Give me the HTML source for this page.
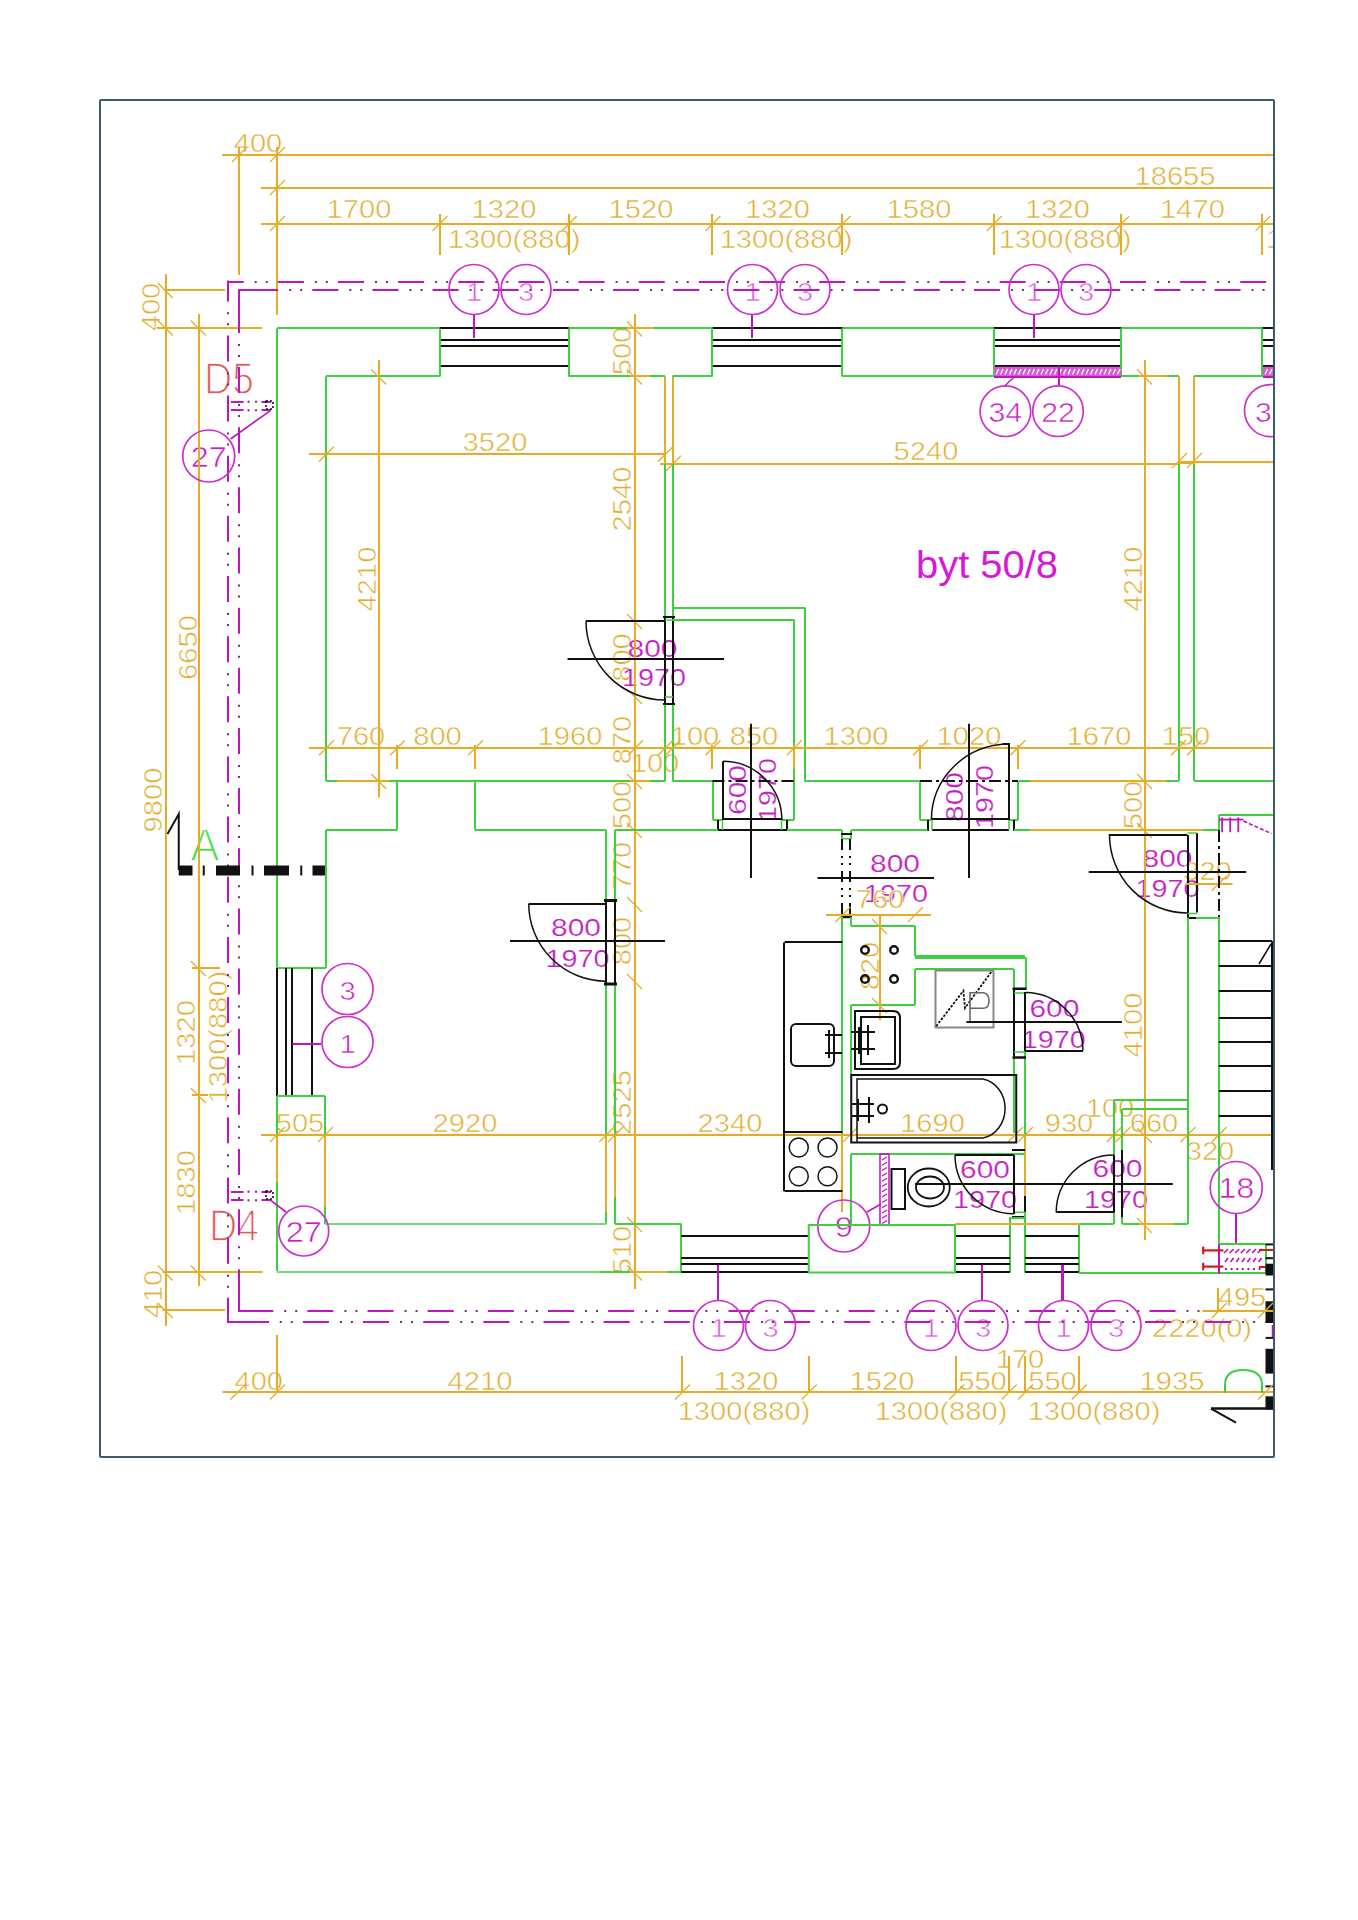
<!DOCTYPE html>
<html><head><meta charset="utf-8"><style>
html,body{margin:0;padding:0;background:#fff;}
body{width:1358px;height:1920px;overflow:hidden;}
svg{display:block;}
text{font-family:"Liberation Sans",sans-serif;}
</style></head><body>
<svg width="1358" height="1920" viewBox="0 0 1358 1920">
<rect x="0" y="0" width="1358" height="1920" fill="#fff"/>
<defs><clipPath id="cp"><rect x="100" y="100" width="1173" height="1356"/></clipPath></defs>
<g clip-path="url(#cp)">
<text x="258" y="151.7" font-size="26" fill="#e0ae30" text-anchor="middle" stroke="#fff" stroke-width="0.55" textLength="48.6" lengthAdjust="spacingAndGlyphs">400</text>
<text x="1175" y="184.7" font-size="26" fill="#e0ae30" text-anchor="middle" stroke="#fff" stroke-width="0.55" textLength="81.0" lengthAdjust="spacingAndGlyphs">18655</text>
<text x="359" y="218.2" font-size="26" fill="#e0ae30" text-anchor="middle" stroke="#fff" stroke-width="0.55" textLength="64.8" lengthAdjust="spacingAndGlyphs">1700</text>
<text x="504" y="218.2" font-size="26" fill="#e0ae30" text-anchor="middle" stroke="#fff" stroke-width="0.55" textLength="64.8" lengthAdjust="spacingAndGlyphs">1320</text>
<text x="641" y="218.2" font-size="26" fill="#e0ae30" text-anchor="middle" stroke="#fff" stroke-width="0.55" textLength="64.8" lengthAdjust="spacingAndGlyphs">1520</text>
<text x="777.5" y="218.2" font-size="26" fill="#e0ae30" text-anchor="middle" stroke="#fff" stroke-width="0.55" textLength="64.8" lengthAdjust="spacingAndGlyphs">1320</text>
<text x="919" y="218.2" font-size="26" fill="#e0ae30" text-anchor="middle" stroke="#fff" stroke-width="0.55" textLength="64.8" lengthAdjust="spacingAndGlyphs">1580</text>
<text x="1057.5" y="218.2" font-size="26" fill="#e0ae30" text-anchor="middle" stroke="#fff" stroke-width="0.55" textLength="64.8" lengthAdjust="spacingAndGlyphs">1320</text>
<text x="1192.5" y="218.2" font-size="26" fill="#e0ae30" text-anchor="middle" stroke="#fff" stroke-width="0.55" textLength="64.8" lengthAdjust="spacingAndGlyphs">1470</text>
<text x="514" y="248.2" font-size="26" fill="#e0ae30" text-anchor="middle" stroke="#fff" stroke-width="0.55" textLength="132.7" lengthAdjust="spacingAndGlyphs">1300(880)</text>
<text x="786" y="248.2" font-size="26" fill="#e0ae30" text-anchor="middle" stroke="#fff" stroke-width="0.55" textLength="132.7" lengthAdjust="spacingAndGlyphs">1300(880)</text>
<text x="1065" y="248.2" font-size="26" fill="#e0ae30" text-anchor="middle" stroke="#fff" stroke-width="0.55" textLength="132.7" lengthAdjust="spacingAndGlyphs">1300(880)</text>
<text x="1266" y="248.2" font-size="26" fill="#e0ae30" text-anchor="start" stroke="#fff" stroke-width="0.55" textLength="132.7" lengthAdjust="spacingAndGlyphs">1300(880)</text>
<text x="0" y="0" transform="translate(151,307) rotate(-90)" dominant-baseline="central" font-size="26" fill="#e0ae30" text-anchor="middle" stroke="#fff" stroke-width="0.55" textLength="48.6" lengthAdjust="spacingAndGlyphs">400</text>
<text x="0" y="0" transform="translate(187.5,647.5) rotate(-90)" dominant-baseline="central" font-size="26" fill="#e0ae30" text-anchor="middle" stroke="#fff" stroke-width="0.55" textLength="64.8" lengthAdjust="spacingAndGlyphs">6650</text>
<text x="0" y="0" transform="translate(152.5,800) rotate(-90)" dominant-baseline="central" font-size="26" fill="#e0ae30" text-anchor="middle" stroke="#fff" stroke-width="0.55" textLength="64.8" lengthAdjust="spacingAndGlyphs">9800</text>
<text x="0" y="0" transform="translate(186,1032.5) rotate(-90)" dominant-baseline="central" font-size="26" fill="#e0ae30" text-anchor="middle" stroke="#fff" stroke-width="0.55" textLength="64.8" lengthAdjust="spacingAndGlyphs">1320</text>
<text x="0" y="0" transform="translate(186,1182.5) rotate(-90)" dominant-baseline="central" font-size="26" fill="#e0ae30" text-anchor="middle" stroke="#fff" stroke-width="0.55" textLength="64.8" lengthAdjust="spacingAndGlyphs">1830</text>
<text x="0" y="0" transform="translate(152.5,1294) rotate(-90)" dominant-baseline="central" font-size="26" fill="#e0ae30" text-anchor="middle" stroke="#fff" stroke-width="0.55" textLength="48.6" lengthAdjust="spacingAndGlyphs">410</text>
<text x="0" y="0" transform="translate(217.5,1037) rotate(-90)" dominant-baseline="central" font-size="26" fill="#e0ae30" text-anchor="middle" stroke="#fff" stroke-width="0.55" textLength="132.7" lengthAdjust="spacingAndGlyphs">1300(880)</text>
<text x="474" y="300.7" font-size="26" fill="#d860d8" text-anchor="middle" stroke="#fff" stroke-width="0.55" textLength="16.2" lengthAdjust="spacingAndGlyphs">1</text>
<text x="526" y="300.7" font-size="26" fill="#d860d8" text-anchor="middle" stroke="#fff" stroke-width="0.55" textLength="16.2" lengthAdjust="spacingAndGlyphs">3</text>
<text x="752.5" y="300.7" font-size="26" fill="#d860d8" text-anchor="middle" stroke="#fff" stroke-width="0.55" textLength="16.2" lengthAdjust="spacingAndGlyphs">1</text>
<text x="805" y="300.7" font-size="26" fill="#d860d8" text-anchor="middle" stroke="#fff" stroke-width="0.55" textLength="16.2" lengthAdjust="spacingAndGlyphs">3</text>
<text x="1034" y="300.7" font-size="26" fill="#d860d8" text-anchor="middle" stroke="#fff" stroke-width="0.55" textLength="16.2" lengthAdjust="spacingAndGlyphs">1</text>
<text x="1086" y="300.7" font-size="26" fill="#d860d8" text-anchor="middle" stroke="#fff" stroke-width="0.55" textLength="16.2" lengthAdjust="spacingAndGlyphs">3</text>
<text x="1005.4" y="422.2" font-size="27" fill="#c41ec4" text-anchor="middle" stroke="#fff" stroke-width="0.55" textLength="33.6" lengthAdjust="spacingAndGlyphs">34</text>
<text x="1058" y="422.2" font-size="27" fill="#c41ec4" text-anchor="middle" stroke="#fff" stroke-width="0.55" textLength="33.6" lengthAdjust="spacingAndGlyphs">22</text>
<text x="1255" y="421.7" font-size="27" fill="#c41ec4" text-anchor="start" stroke="#fff" stroke-width="0.55" textLength="16.8" lengthAdjust="spacingAndGlyphs">3</text>
<text x="495" y="450.7" font-size="26" fill="#e0ae30" text-anchor="middle" stroke="#fff" stroke-width="0.55" textLength="64.8" lengthAdjust="spacingAndGlyphs">3520</text>
<text x="0" y="0" transform="translate(367,579) rotate(-90)" dominant-baseline="central" font-size="26" fill="#e0ae30" text-anchor="middle" stroke="#fff" stroke-width="0.55" textLength="64.8" lengthAdjust="spacingAndGlyphs">4210</text>
<text x="926" y="459.7" font-size="26" fill="#e0ae30" text-anchor="middle" stroke="#fff" stroke-width="0.55" textLength="64.8" lengthAdjust="spacingAndGlyphs">5240</text>
<text x="987" y="578.2" font-size="38" fill="#d818d8" text-anchor="middle" textLength="142" lengthAdjust="spacingAndGlyphs">byt 50/8</text>
<text x="0" y="0" transform="translate(1132.5,579) rotate(-90)" dominant-baseline="central" font-size="26" fill="#e0ae30" text-anchor="middle" stroke="#fff" stroke-width="0.55" textLength="64.8" lengthAdjust="spacingAndGlyphs">4210</text>
<text x="0" y="0" transform="translate(1132.5,805) rotate(-90)" dominant-baseline="central" font-size="26" fill="#e0ae30" text-anchor="middle" stroke="#fff" stroke-width="0.55" textLength="48.6" lengthAdjust="spacingAndGlyphs">500</text>
<text x="0" y="0" transform="translate(1132.5,1025) rotate(-90)" dominant-baseline="central" font-size="26" fill="#e0ae30" text-anchor="middle" stroke="#fff" stroke-width="0.55" textLength="64.8" lengthAdjust="spacingAndGlyphs">4100</text>
<text x="0" y="0" transform="translate(622,351) rotate(-90)" dominant-baseline="central" font-size="26" fill="#e0ae30" text-anchor="middle" stroke="#fff" stroke-width="0.55" textLength="48.6" lengthAdjust="spacingAndGlyphs">500</text>
<text x="0" y="0" transform="translate(622,499) rotate(-90)" dominant-baseline="central" font-size="26" fill="#e0ae30" text-anchor="middle" stroke="#fff" stroke-width="0.55" textLength="64.8" lengthAdjust="spacingAndGlyphs">2540</text>
<text x="0" y="0" transform="translate(622,657.5) rotate(-90)" dominant-baseline="central" font-size="26" fill="#e0ae30" text-anchor="middle" stroke="#fff" stroke-width="0.55" textLength="48.6" lengthAdjust="spacingAndGlyphs">800</text>
<text x="0" y="0" transform="translate(622,740) rotate(-90)" dominant-baseline="central" font-size="26" fill="#e0ae30" text-anchor="middle" stroke="#fff" stroke-width="0.55" textLength="48.6" lengthAdjust="spacingAndGlyphs">870</text>
<text x="0" y="0" transform="translate(622,805) rotate(-90)" dominant-baseline="central" font-size="26" fill="#e0ae30" text-anchor="middle" stroke="#fff" stroke-width="0.55" textLength="48.6" lengthAdjust="spacingAndGlyphs">500</text>
<text x="0" y="0" transform="translate(622,866) rotate(-90)" dominant-baseline="central" font-size="26" fill="#e0ae30" text-anchor="middle" stroke="#fff" stroke-width="0.55" textLength="48.6" lengthAdjust="spacingAndGlyphs">770</text>
<text x="0" y="0" transform="translate(622,941) rotate(-90)" dominant-baseline="central" font-size="26" fill="#e0ae30" text-anchor="middle" stroke="#fff" stroke-width="0.55" textLength="48.6" lengthAdjust="spacingAndGlyphs">800</text>
<text x="0" y="0" transform="translate(622,1102.5) rotate(-90)" dominant-baseline="central" font-size="26" fill="#e0ae30" text-anchor="middle" stroke="#fff" stroke-width="0.55" textLength="64.8" lengthAdjust="spacingAndGlyphs">2525</text>
<text x="0" y="0" transform="translate(622,1250) rotate(-90)" dominant-baseline="central" font-size="26" fill="#e0ae30" text-anchor="middle" stroke="#fff" stroke-width="0.55" textLength="48.6" lengthAdjust="spacingAndGlyphs">510</text>
<text x="652.5" y="656.7" font-size="23" fill="#c41ec4" text-anchor="middle" stroke="#fff" stroke-width="0.2" textLength="49.9" lengthAdjust="spacingAndGlyphs">800</text>
<text x="654" y="685.7" font-size="23" fill="#c41ec4" text-anchor="middle" stroke="#fff" stroke-width="0.2" textLength="63.9" lengthAdjust="spacingAndGlyphs">1970</text>
<text x="361" y="744.7" font-size="26" fill="#e0ae30" text-anchor="middle" stroke="#fff" stroke-width="0.55" textLength="48.6" lengthAdjust="spacingAndGlyphs">760</text>
<text x="437.5" y="744.7" font-size="26" fill="#e0ae30" text-anchor="middle" stroke="#fff" stroke-width="0.55" textLength="48.6" lengthAdjust="spacingAndGlyphs">800</text>
<text x="570" y="744.7" font-size="26" fill="#e0ae30" text-anchor="middle" stroke="#fff" stroke-width="0.55" textLength="64.8" lengthAdjust="spacingAndGlyphs">1960</text>
<text x="695" y="744.7" font-size="26" fill="#e0ae30" text-anchor="middle" stroke="#fff" stroke-width="0.55" textLength="48.6" lengthAdjust="spacingAndGlyphs">100</text>
<text x="754" y="744.7" font-size="26" fill="#e0ae30" text-anchor="middle" stroke="#fff" stroke-width="0.55" textLength="48.6" lengthAdjust="spacingAndGlyphs">850</text>
<text x="856" y="744.7" font-size="26" fill="#e0ae30" text-anchor="middle" stroke="#fff" stroke-width="0.55" textLength="64.8" lengthAdjust="spacingAndGlyphs">1300</text>
<text x="969" y="744.7" font-size="26" fill="#e0ae30" text-anchor="middle" stroke="#fff" stroke-width="0.55" textLength="64.8" lengthAdjust="spacingAndGlyphs">1020</text>
<text x="1099" y="744.7" font-size="26" fill="#e0ae30" text-anchor="middle" stroke="#fff" stroke-width="0.55" textLength="64.8" lengthAdjust="spacingAndGlyphs">1670</text>
<text x="1186" y="744.7" font-size="26" fill="#e0ae30" text-anchor="middle" stroke="#fff" stroke-width="0.55" textLength="48.6" lengthAdjust="spacingAndGlyphs">150</text>
<text x="655" y="771.7" font-size="26" fill="#e0ae30" text-anchor="middle" stroke="#fff" stroke-width="0.55" textLength="48.6" lengthAdjust="spacingAndGlyphs">100</text>
<text x="300" y="1131.7" font-size="26" fill="#e0ae30" text-anchor="middle" stroke="#fff" stroke-width="0.55" textLength="48.6" lengthAdjust="spacingAndGlyphs">505</text>
<text x="465" y="1131.7" font-size="26" fill="#e0ae30" text-anchor="middle" stroke="#fff" stroke-width="0.55" textLength="64.8" lengthAdjust="spacingAndGlyphs">2920</text>
<text x="730" y="1131.7" font-size="26" fill="#e0ae30" text-anchor="middle" stroke="#fff" stroke-width="0.55" textLength="64.8" lengthAdjust="spacingAndGlyphs">2340</text>
<text x="932.5" y="1131.7" font-size="26" fill="#e0ae30" text-anchor="middle" stroke="#fff" stroke-width="0.55" textLength="64.8" lengthAdjust="spacingAndGlyphs">1690</text>
<text x="1069" y="1131.7" font-size="26" fill="#e0ae30" text-anchor="middle" stroke="#fff" stroke-width="0.55" textLength="48.6" lengthAdjust="spacingAndGlyphs">930</text>
<text x="1154" y="1131.7" font-size="26" fill="#e0ae30" text-anchor="middle" stroke="#fff" stroke-width="0.55" textLength="48.6" lengthAdjust="spacingAndGlyphs">660</text>
<text x="1110" y="1116.7" font-size="26" fill="#e0ae30" text-anchor="middle" stroke="#fff" stroke-width="0.55" textLength="48.6" lengthAdjust="spacingAndGlyphs">100</text>
<text x="1210" y="1159.7" font-size="26" fill="#e0ae30" text-anchor="middle" stroke="#fff" stroke-width="0.55" textLength="48.6" lengthAdjust="spacingAndGlyphs">320</text>
<text x="205" y="861.0" font-size="47" fill="#44dd44" text-anchor="middle" stroke="#fff" stroke-width="1.5" textLength="29.3" lengthAdjust="spacingAndGlyphs">A</text>
<text x="347.5" y="999.7" font-size="26" fill="#c41ec4" text-anchor="middle" stroke="#fff" stroke-width="0.55" textLength="16.2" lengthAdjust="spacingAndGlyphs">3</text>
<text x="347.5" y="1052.7" font-size="26" fill="#c41ec4" text-anchor="middle" stroke="#fff" stroke-width="0.55" textLength="16.2" lengthAdjust="spacingAndGlyphs">1</text>
<text x="229" y="393.7" font-size="44" fill="#e05a5a" text-anchor="middle" stroke="#fff" stroke-width="1.4" textLength="50" lengthAdjust="spacingAndGlyphs">D5</text>
<text x="208.75" y="466.7" font-size="29" fill="#c41ec4" text-anchor="middle" stroke="#fff" stroke-width="0.55" textLength="36.1" lengthAdjust="spacingAndGlyphs">27</text>
<text x="234" y="1240.7" font-size="44" fill="#e05a5a" text-anchor="middle" stroke="#fff" stroke-width="1.4" textLength="50" lengthAdjust="spacingAndGlyphs">D4</text>
<text x="303.75" y="1241.7" font-size="29" fill="#c41ec4" text-anchor="middle" stroke="#fff" stroke-width="0.55" textLength="36.1" lengthAdjust="spacingAndGlyphs">27</text>
<text x="576" y="935.7" font-size="23" fill="#c41ec4" text-anchor="middle" stroke="#fff" stroke-width="0.2" textLength="49.9" lengthAdjust="spacingAndGlyphs">800</text>
<text x="577.5" y="966.7" font-size="23" fill="#c41ec4" text-anchor="middle" stroke="#fff" stroke-width="0.2" textLength="63.9" lengthAdjust="spacingAndGlyphs">1970</text>
<text x="0" y="0" transform="translate(738,790) rotate(-90)" dominant-baseline="central" font-size="23" fill="#c41ec4" text-anchor="middle" stroke="#fff" stroke-width="0.2" textLength="49.9" lengthAdjust="spacingAndGlyphs">600</text>
<text x="0" y="0" transform="translate(767.5,790) rotate(-90)" dominant-baseline="central" font-size="23" fill="#c41ec4" text-anchor="middle" stroke="#fff" stroke-width="0.2" textLength="63.9" lengthAdjust="spacingAndGlyphs">1970</text>
<text x="0" y="0" transform="translate(955,797) rotate(-90)" dominant-baseline="central" font-size="23" fill="#c41ec4" text-anchor="middle" stroke="#fff" stroke-width="0.2" textLength="49.9" lengthAdjust="spacingAndGlyphs">800</text>
<text x="0" y="0" transform="translate(985,797) rotate(-90)" dominant-baseline="central" font-size="23" fill="#c41ec4" text-anchor="middle" stroke="#fff" stroke-width="0.2" textLength="63.9" lengthAdjust="spacingAndGlyphs">1970</text>
<text x="895" y="871.7" font-size="23" fill="#c41ec4" text-anchor="middle" stroke="#fff" stroke-width="0.2" textLength="49.9" lengthAdjust="spacingAndGlyphs">800</text>
<text x="896" y="901.7" font-size="23" fill="#c41ec4" text-anchor="middle" stroke="#fff" stroke-width="0.2" textLength="63.9" lengthAdjust="spacingAndGlyphs">1970</text>
<text x="880" y="908.2" font-size="26" fill="#e0ae30" text-anchor="middle" stroke="#fff" stroke-width="0.55" textLength="48.6" lengthAdjust="spacingAndGlyphs">760</text>
<text x="0" y="0" transform="translate(870,966) rotate(-90)" dominant-baseline="central" font-size="26" fill="#e0ae30" text-anchor="middle" stroke="#fff" stroke-width="0.55" textLength="48.6" lengthAdjust="spacingAndGlyphs">820</text>
<text x="1054.4" y="1016.95" font-size="23" fill="#c41ec4" text-anchor="middle" stroke="#fff" stroke-width="0.2" textLength="49.9" lengthAdjust="spacingAndGlyphs">600</text>
<text x="1053.75" y="1048.2" font-size="23" fill="#c41ec4" text-anchor="middle" stroke="#fff" stroke-width="0.2" textLength="63.9" lengthAdjust="spacingAndGlyphs">1970</text>
<text x="985" y="1178.2" font-size="23" fill="#c41ec4" text-anchor="middle" stroke="#fff" stroke-width="0.2" textLength="49.9" lengthAdjust="spacingAndGlyphs">600</text>
<text x="985" y="1208.2" font-size="23" fill="#c41ec4" text-anchor="middle" stroke="#fff" stroke-width="0.2" textLength="63.9" lengthAdjust="spacingAndGlyphs">1970</text>
<text x="843.75" y="1236.7" font-size="29" fill="#c41ec4" text-anchor="middle" stroke="#fff" stroke-width="0.55" textLength="18.1" lengthAdjust="spacingAndGlyphs">9</text>
<text x="1167.5" y="866.7" font-size="23" fill="#c41ec4" text-anchor="middle" stroke="#fff" stroke-width="0.2" textLength="49.9" lengthAdjust="spacingAndGlyphs">800</text>
<text x="1167.5" y="896.7" font-size="23" fill="#c41ec4" text-anchor="middle" stroke="#fff" stroke-width="0.2" textLength="63.9" lengthAdjust="spacingAndGlyphs">1970</text>
<text x="1207.5" y="879.7" font-size="26" fill="#e0ae30" text-anchor="middle" stroke="#fff" stroke-width="0.55" textLength="48.6" lengthAdjust="spacingAndGlyphs">320</text>
<text x="1117.5" y="1176.7" font-size="23" fill="#c41ec4" text-anchor="middle" stroke="#fff" stroke-width="0.2" textLength="49.9" lengthAdjust="spacingAndGlyphs">600</text>
<text x="1116" y="1208.2" font-size="23" fill="#c41ec4" text-anchor="middle" stroke="#fff" stroke-width="0.2" textLength="63.9" lengthAdjust="spacingAndGlyphs">1970</text>
<text x="1236.25" y="1198.2" font-size="29" fill="#c41ec4" text-anchor="middle" stroke="#fff" stroke-width="0.55" textLength="36.1" lengthAdjust="spacingAndGlyphs">18</text>
<text x="718.5" y="1336.7" font-size="26" fill="#d860d8" text-anchor="middle" stroke="#fff" stroke-width="0.55" textLength="16.2" lengthAdjust="spacingAndGlyphs">1</text>
<text x="770.5" y="1336.7" font-size="26" fill="#d860d8" text-anchor="middle" stroke="#fff" stroke-width="0.55" textLength="16.2" lengthAdjust="spacingAndGlyphs">3</text>
<text x="931" y="1336.7" font-size="26" fill="#d860d8" text-anchor="middle" stroke="#fff" stroke-width="0.55" textLength="16.2" lengthAdjust="spacingAndGlyphs">1</text>
<text x="983" y="1336.7" font-size="26" fill="#d860d8" text-anchor="middle" stroke="#fff" stroke-width="0.55" textLength="16.2" lengthAdjust="spacingAndGlyphs">3</text>
<text x="1063.5" y="1336.7" font-size="26" fill="#d860d8" text-anchor="middle" stroke="#fff" stroke-width="0.55" textLength="16.2" lengthAdjust="spacingAndGlyphs">1</text>
<text x="1116" y="1336.7" font-size="26" fill="#d860d8" text-anchor="middle" stroke="#fff" stroke-width="0.55" textLength="16.2" lengthAdjust="spacingAndGlyphs">3</text>
<text x="258.75" y="1389.7" font-size="26" fill="#e0ae30" text-anchor="middle" stroke="#fff" stroke-width="0.55" textLength="48.6" lengthAdjust="spacingAndGlyphs">400</text>
<text x="480" y="1389.7" font-size="26" fill="#e0ae30" text-anchor="middle" stroke="#fff" stroke-width="0.55" textLength="64.8" lengthAdjust="spacingAndGlyphs">4210</text>
<text x="746" y="1389.7" font-size="26" fill="#e0ae30" text-anchor="middle" stroke="#fff" stroke-width="0.55" textLength="64.8" lengthAdjust="spacingAndGlyphs">1320</text>
<text x="882" y="1389.7" font-size="26" fill="#e0ae30" text-anchor="middle" stroke="#fff" stroke-width="0.55" textLength="64.8" lengthAdjust="spacingAndGlyphs">1520</text>
<text x="982.5" y="1389.7" font-size="26" fill="#e0ae30" text-anchor="middle" stroke="#fff" stroke-width="0.55" textLength="48.6" lengthAdjust="spacingAndGlyphs">550</text>
<text x="1052.5" y="1389.7" font-size="26" fill="#e0ae30" text-anchor="middle" stroke="#fff" stroke-width="0.55" textLength="48.6" lengthAdjust="spacingAndGlyphs">550</text>
<text x="1172" y="1389.7" font-size="26" fill="#e0ae30" text-anchor="middle" stroke="#fff" stroke-width="0.55" textLength="64.8" lengthAdjust="spacingAndGlyphs">1935</text>
<text x="1020" y="1368.2" font-size="26" fill="#e0ae30" text-anchor="middle" stroke="#fff" stroke-width="0.55" textLength="48.6" lengthAdjust="spacingAndGlyphs">170</text>
<text x="744" y="1419.7" font-size="26" fill="#e0ae30" text-anchor="middle" stroke="#fff" stroke-width="0.55" textLength="132.7" lengthAdjust="spacingAndGlyphs">1300(880)</text>
<text x="941" y="1419.7" font-size="26" fill="#e0ae30" text-anchor="middle" stroke="#fff" stroke-width="0.55" textLength="132.7" lengthAdjust="spacingAndGlyphs">1300(880)</text>
<text x="1094" y="1419.7" font-size="26" fill="#e0ae30" text-anchor="middle" stroke="#fff" stroke-width="0.55" textLength="132.7" lengthAdjust="spacingAndGlyphs">1300(880)</text>
<text x="1242" y="1305.7" font-size="26" fill="#e0ae30" text-anchor="middle" stroke="#fff" stroke-width="0.55" textLength="48.6" lengthAdjust="spacingAndGlyphs">495</text>
<text x="1202" y="1337.2" font-size="26" fill="#e0ae30" text-anchor="middle" stroke="#fff" stroke-width="0.55" textLength="100" lengthAdjust="spacingAndGlyphs">2220(0)</text>
<line x1="222" y1="155" x2="1273" y2="155" stroke="#e6ac26" stroke-width="2" stroke-linecap="butt"/>
<line x1="261" y1="188" x2="1273" y2="188" stroke="#e6ac26" stroke-width="2" stroke-linecap="butt"/>
<line x1="261" y1="224" x2="1273" y2="224" stroke="#e6ac26" stroke-width="2" stroke-linecap="butt"/>
<line x1="239" y1="147" x2="239" y2="275" stroke="#e6ac26" stroke-width="2" stroke-linecap="butt"/>
<line x1="277" y1="147" x2="277" y2="315" stroke="#e6ac26" stroke-width="2" stroke-linecap="butt"/>
<line x1="232" y1="162" x2="247" y2="147" stroke="#e6ac26" stroke-width="1.3" stroke-linecap="butt"/>
<line x1="270" y1="162" x2="285" y2="147" stroke="#e6ac26" stroke-width="1.3" stroke-linecap="butt"/>
<line x1="270" y1="195" x2="285" y2="180" stroke="#e6ac26" stroke-width="1.3" stroke-linecap="butt"/>
<line x1="270" y1="231" x2="285" y2="216" stroke="#e6ac26" stroke-width="1.3" stroke-linecap="butt"/>
<line x1="432.5" y1="231" x2="447.5" y2="216" stroke="#e6ac26" stroke-width="1.3" stroke-linecap="butt"/>
<line x1="440" y1="214" x2="440" y2="255" stroke="#e6ac26" stroke-width="2" stroke-linecap="butt"/>
<line x1="561.75" y1="231" x2="576.75" y2="216" stroke="#e6ac26" stroke-width="1.3" stroke-linecap="butt"/>
<line x1="569" y1="214" x2="569" y2="255" stroke="#e6ac26" stroke-width="2" stroke-linecap="butt"/>
<line x1="705.5" y1="231" x2="720.5" y2="216" stroke="#e6ac26" stroke-width="1.3" stroke-linecap="butt"/>
<line x1="712" y1="214" x2="712" y2="255" stroke="#e6ac26" stroke-width="2" stroke-linecap="butt"/>
<line x1="835.5" y1="231" x2="850.5" y2="216" stroke="#e6ac26" stroke-width="1.3" stroke-linecap="butt"/>
<line x1="842" y1="214" x2="842" y2="255" stroke="#e6ac26" stroke-width="2" stroke-linecap="butt"/>
<line x1="986.75" y1="231" x2="1001.75" y2="216" stroke="#e6ac26" stroke-width="1.3" stroke-linecap="butt"/>
<line x1="994" y1="214" x2="994" y2="255" stroke="#e6ac26" stroke-width="2" stroke-linecap="butt"/>
<line x1="1114.25" y1="231" x2="1129.25" y2="216" stroke="#e6ac26" stroke-width="1.3" stroke-linecap="butt"/>
<line x1="1121" y1="214" x2="1121" y2="255" stroke="#e6ac26" stroke-width="2" stroke-linecap="butt"/>
<line x1="1255.5" y1="231" x2="1270.5" y2="216" stroke="#e6ac26" stroke-width="1.3" stroke-linecap="butt"/>
<line x1="1262" y1="214" x2="1262" y2="255" stroke="#e6ac26" stroke-width="2" stroke-linecap="butt"/>
<line x1="164" y1="290" x2="225" y2="290" stroke="#e6ac26" stroke-width="2" stroke-linecap="butt"/>
<line x1="157" y1="328" x2="262" y2="328" stroke="#e6ac26" stroke-width="2" stroke-linecap="butt"/>
<line x1="166" y1="274" x2="166" y2="1326" stroke="#e6ac26" stroke-width="2" stroke-linecap="butt"/>
<line x1="199" y1="314" x2="199" y2="1286" stroke="#e6ac26" stroke-width="2" stroke-linecap="butt"/>
<line x1="157.75" y1="283" x2="172.75" y2="298" stroke="#e6ac26" stroke-width="1.3" stroke-linecap="butt"/>
<line x1="157.75" y1="320.5" x2="172.75" y2="335.5" stroke="#e6ac26" stroke-width="1.3" stroke-linecap="butt"/>
<line x1="190.75" y1="320.5" x2="205.75" y2="335.5" stroke="#e6ac26" stroke-width="1.3" stroke-linecap="butt"/>
<line x1="190.75" y1="961" x2="205.75" y2="976" stroke="#e6ac26" stroke-width="1.3" stroke-linecap="butt"/>
<line x1="190.75" y1="1088" x2="205.75" y2="1103" stroke="#e6ac26" stroke-width="1.3" stroke-linecap="butt"/>
<line x1="157.75" y1="1265.5" x2="172.75" y2="1280.5" stroke="#e6ac26" stroke-width="1.3" stroke-linecap="butt"/>
<line x1="190.75" y1="1265.5" x2="205.75" y2="1280.5" stroke="#e6ac26" stroke-width="1.3" stroke-linecap="butt"/>
<line x1="157.75" y1="1303" x2="172.75" y2="1318" stroke="#e6ac26" stroke-width="1.3" stroke-linecap="butt"/>
<line x1="162.5" y1="1272" x2="262.5" y2="1272" stroke="#e6ac26" stroke-width="2" stroke-linecap="butt"/>
<line x1="162.5" y1="1310" x2="225" y2="1310" stroke="#e6ac26" stroke-width="2" stroke-linecap="butt"/>
<line x1="192" y1="968" x2="220" y2="968" stroke="#e6ac26" stroke-width="2" stroke-linecap="butt"/>
<line x1="192" y1="1095" x2="208" y2="1095" stroke="#e6ac26" stroke-width="2" stroke-linecap="butt"/>
<line x1="227" y1="282" x2="242" y2="282" stroke="#be14be" stroke-width="2" stroke-linecap="butt"/>
<line x1="242" y1="282" x2="1273" y2="282" stroke="#be14be" stroke-width="2" stroke-dasharray="26 34.15" stroke-dashoffset="24.29999999999999" stroke-linecap="butt"/>
<line x1="242" y1="282" x2="1273" y2="282" stroke="#7a2a7a" stroke-width="2" stroke-dasharray="0 37 2 9 2 10.149999999999999" stroke-dashoffset="24.29999999999999" stroke-linecap="butt"/>
<line x1="238.25" y1="290" x2="276" y2="290" stroke="#be14be" stroke-width="2" stroke-linecap="butt"/>
<line x1="276" y1="290" x2="1273" y2="290" stroke="#be14be" stroke-width="2" stroke-dasharray="26 34.15" stroke-dashoffset="23.849999999999945" stroke-linecap="butt"/>
<line x1="276" y1="290" x2="1273" y2="290" stroke="#7a2a7a" stroke-width="2" stroke-dasharray="0 37 2 9 2 10.149999999999999" stroke-dashoffset="23.849999999999945" stroke-linecap="butt"/>
<line x1="228" y1="280.5" x2="228" y2="301.5" stroke="#be14be" stroke-width="2" stroke-linecap="butt"/>
<line x1="228" y1="301.5" x2="228" y2="1321.5" stroke="#be14be" stroke-width="2" stroke-dasharray="26 34.15" stroke-dashoffset="26.249999999999993" stroke-linecap="butt"/>
<line x1="228" y1="301.5" x2="228" y2="1321.5" stroke="#7a2a7a" stroke-width="2" stroke-dasharray="0 37 2 9 2 10.149999999999999" stroke-dashoffset="26.249999999999993" stroke-linecap="butt"/>
<line x1="239" y1="289.5" x2="239" y2="327.3" stroke="#be14be" stroke-width="2" stroke-linecap="butt"/>
<line x1="239" y1="327.3" x2="239" y2="1270" stroke="#be14be" stroke-width="2" stroke-dasharray="26 34.15" stroke-dashoffset="20.400000000000006" stroke-linecap="butt"/>
<line x1="239" y1="327.3" x2="239" y2="1270" stroke="#7a2a7a" stroke-width="2" stroke-dasharray="0 37 2 9 2 10.149999999999999" stroke-dashoffset="20.400000000000006" stroke-linecap="butt"/>
<line x1="239" y1="1270" x2="239" y2="1312" stroke="#be14be" stroke-width="2" stroke-linecap="butt"/>
<line x1="227" y1="1322" x2="269" y2="1322" stroke="#be14be" stroke-width="2" stroke-linecap="butt"/>
<line x1="269" y1="1322" x2="1273" y2="1322" stroke="#be14be" stroke-width="2" stroke-dasharray="26 34.15" stroke-dashoffset="26.249999999999993" stroke-linecap="butt"/>
<line x1="269" y1="1322" x2="1273" y2="1322" stroke="#7a2a7a" stroke-width="2" stroke-dasharray="0 37 2 9 2 10.149999999999999" stroke-dashoffset="26.249999999999993" stroke-linecap="butt"/>
<line x1="238.25" y1="1311" x2="272" y2="1311" stroke="#be14be" stroke-width="2" stroke-linecap="butt"/>
<line x1="272" y1="1311" x2="1273" y2="1311" stroke="#be14be" stroke-width="2" stroke-dasharray="26 34.15" stroke-dashoffset="24.749999999999993" stroke-linecap="butt"/>
<line x1="272" y1="1311" x2="1273" y2="1311" stroke="#7a2a7a" stroke-width="2" stroke-dasharray="0 37 2 9 2 10.149999999999999" stroke-dashoffset="24.749999999999993" stroke-linecap="butt"/>
<line x1="277" y1="328" x2="439.5" y2="328" stroke="#3fcf3f" stroke-width="2" stroke-linecap="butt"/>
<line x1="568.75" y1="328" x2="712.5" y2="328" stroke="#3fcf3f" stroke-width="2" stroke-linecap="butt"/>
<line x1="842.5" y1="328" x2="993.75" y2="328" stroke="#3fcf3f" stroke-width="2" stroke-linecap="butt"/>
<line x1="1121.25" y1="328" x2="1262.5" y2="328" stroke="#3fcf3f" stroke-width="2" stroke-linecap="butt"/>
<line x1="277" y1="328.5" x2="277" y2="1271" stroke="#3fcf3f" stroke-width="2" stroke-linecap="butt"/>
<line x1="439.5" y1="328" x2="568.75" y2="328" stroke="#111111" stroke-width="2" stroke-linecap="butt"/>
<line x1="439.5" y1="340" x2="568.75" y2="340" stroke="#111111" stroke-width="2" stroke-linecap="butt"/>
<line x1="439.5" y1="346" x2="568.75" y2="346" stroke="#111111" stroke-width="2" stroke-linecap="butt"/>
<line x1="439.5" y1="366" x2="568.75" y2="366" stroke="#111111" stroke-width="2" stroke-linecap="butt"/>
<line x1="712.5" y1="328" x2="842.5" y2="328" stroke="#111111" stroke-width="2" stroke-linecap="butt"/>
<line x1="712.5" y1="340" x2="842.5" y2="340" stroke="#111111" stroke-width="2" stroke-linecap="butt"/>
<line x1="712.5" y1="346" x2="842.5" y2="346" stroke="#111111" stroke-width="2" stroke-linecap="butt"/>
<line x1="712.5" y1="366" x2="842.5" y2="366" stroke="#111111" stroke-width="2" stroke-linecap="butt"/>
<line x1="993.75" y1="328" x2="1121.25" y2="328" stroke="#111111" stroke-width="2" stroke-linecap="butt"/>
<line x1="993.75" y1="340" x2="1121.25" y2="340" stroke="#111111" stroke-width="2" stroke-linecap="butt"/>
<line x1="993.75" y1="346" x2="1121.25" y2="346" stroke="#111111" stroke-width="2" stroke-linecap="butt"/>
<line x1="993.75" y1="366" x2="1121.25" y2="366" stroke="#111111" stroke-width="2" stroke-linecap="butt"/>
<line x1="1262.5" y1="328" x2="1273" y2="328" stroke="#111111" stroke-width="2" stroke-linecap="butt"/>
<line x1="1262.5" y1="340" x2="1273" y2="340" stroke="#111111" stroke-width="2" stroke-linecap="butt"/>
<line x1="1262.5" y1="346" x2="1273" y2="346" stroke="#111111" stroke-width="2" stroke-linecap="butt"/>
<line x1="1262.5" y1="366" x2="1273" y2="366" stroke="#111111" stroke-width="2" stroke-linecap="butt"/>
<line x1="440" y1="328.5" x2="440" y2="376.5" stroke="#3fcf3f" stroke-width="2" stroke-linecap="butt"/>
<line x1="569" y1="328.5" x2="569" y2="376.5" stroke="#3fcf3f" stroke-width="2" stroke-linecap="butt"/>
<line x1="712" y1="328.5" x2="712" y2="376.5" stroke="#3fcf3f" stroke-width="2" stroke-linecap="butt"/>
<line x1="842" y1="328.5" x2="842" y2="376.5" stroke="#3fcf3f" stroke-width="2" stroke-linecap="butt"/>
<line x1="994" y1="328.5" x2="994" y2="376.5" stroke="#3fcf3f" stroke-width="2" stroke-linecap="butt"/>
<line x1="1121" y1="328.5" x2="1121" y2="376.5" stroke="#3fcf3f" stroke-width="2" stroke-linecap="butt"/>
<line x1="1262" y1="328.5" x2="1262" y2="376.5" stroke="#3fcf3f" stroke-width="2" stroke-linecap="butt"/>
<line x1="326" y1="376" x2="439.5" y2="376" stroke="#3fcf3f" stroke-width="2" stroke-linecap="butt"/>
<line x1="568.75" y1="376" x2="665" y2="376" stroke="#3fcf3f" stroke-width="2" stroke-linecap="butt"/>
<line x1="672.5" y1="376" x2="712.5" y2="376" stroke="#3fcf3f" stroke-width="2" stroke-linecap="butt"/>
<line x1="842.5" y1="376" x2="993.75" y2="376" stroke="#3fcf3f" stroke-width="2" stroke-linecap="butt"/>
<line x1="1121.25" y1="376" x2="1179" y2="376" stroke="#3fcf3f" stroke-width="2" stroke-linecap="butt"/>
<line x1="1194" y1="376" x2="1262.5" y2="376" stroke="#3fcf3f" stroke-width="2" stroke-linecap="butt"/>
<rect x="994" y="366.8" width="127" height="10.5" fill="#d858d8"/>
<line x1="994" y1="377" x2="1121" y2="377" stroke="#be14be" stroke-width="2" stroke-linecap="butt"/>
<line x1="996.0" y1="374.5" x2="998.5" y2="369" stroke="#fff" stroke-width="1.4" stroke-linecap="butt"/>
<line x1="1000.5" y1="374.5" x2="1003.0" y2="369" stroke="#fff" stroke-width="1.4" stroke-linecap="butt"/>
<line x1="1005.0" y1="374.5" x2="1007.5" y2="369" stroke="#fff" stroke-width="1.4" stroke-linecap="butt"/>
<line x1="1009.5" y1="374.5" x2="1012.0" y2="369" stroke="#fff" stroke-width="1.4" stroke-linecap="butt"/>
<line x1="1014.0" y1="374.5" x2="1016.5" y2="369" stroke="#fff" stroke-width="1.4" stroke-linecap="butt"/>
<line x1="1018.5" y1="374.5" x2="1021.0" y2="369" stroke="#fff" stroke-width="1.4" stroke-linecap="butt"/>
<line x1="1023.0" y1="374.5" x2="1025.5" y2="369" stroke="#fff" stroke-width="1.4" stroke-linecap="butt"/>
<line x1="1027.5" y1="374.5" x2="1030.0" y2="369" stroke="#fff" stroke-width="1.4" stroke-linecap="butt"/>
<line x1="1032.0" y1="374.5" x2="1034.5" y2="369" stroke="#fff" stroke-width="1.4" stroke-linecap="butt"/>
<line x1="1036.5" y1="374.5" x2="1039.0" y2="369" stroke="#fff" stroke-width="1.4" stroke-linecap="butt"/>
<line x1="1041.0" y1="374.5" x2="1043.5" y2="369" stroke="#fff" stroke-width="1.4" stroke-linecap="butt"/>
<line x1="1045.5" y1="374.5" x2="1048.0" y2="369" stroke="#fff" stroke-width="1.4" stroke-linecap="butt"/>
<line x1="1050.0" y1="374.5" x2="1052.5" y2="369" stroke="#fff" stroke-width="1.4" stroke-linecap="butt"/>
<line x1="1054.5" y1="374.5" x2="1057.0" y2="369" stroke="#fff" stroke-width="1.4" stroke-linecap="butt"/>
<line x1="1059.0" y1="374.5" x2="1061.5" y2="369" stroke="#fff" stroke-width="1.4" stroke-linecap="butt"/>
<line x1="1063.5" y1="374.5" x2="1066.0" y2="369" stroke="#fff" stroke-width="1.4" stroke-linecap="butt"/>
<line x1="1068.0" y1="374.5" x2="1070.5" y2="369" stroke="#fff" stroke-width="1.4" stroke-linecap="butt"/>
<line x1="1072.5" y1="374.5" x2="1075.0" y2="369" stroke="#fff" stroke-width="1.4" stroke-linecap="butt"/>
<line x1="1077.0" y1="374.5" x2="1079.5" y2="369" stroke="#fff" stroke-width="1.4" stroke-linecap="butt"/>
<line x1="1081.5" y1="374.5" x2="1084.0" y2="369" stroke="#fff" stroke-width="1.4" stroke-linecap="butt"/>
<line x1="1086.0" y1="374.5" x2="1088.5" y2="369" stroke="#fff" stroke-width="1.4" stroke-linecap="butt"/>
<line x1="1090.5" y1="374.5" x2="1093.0" y2="369" stroke="#fff" stroke-width="1.4" stroke-linecap="butt"/>
<line x1="1095.0" y1="374.5" x2="1097.5" y2="369" stroke="#fff" stroke-width="1.4" stroke-linecap="butt"/>
<line x1="1099.5" y1="374.5" x2="1102.0" y2="369" stroke="#fff" stroke-width="1.4" stroke-linecap="butt"/>
<line x1="1104.0" y1="374.5" x2="1106.5" y2="369" stroke="#fff" stroke-width="1.4" stroke-linecap="butt"/>
<line x1="1108.5" y1="374.5" x2="1111.0" y2="369" stroke="#fff" stroke-width="1.4" stroke-linecap="butt"/>
<line x1="1113.0" y1="374.5" x2="1115.5" y2="369" stroke="#fff" stroke-width="1.4" stroke-linecap="butt"/>
<line x1="1117.5" y1="374.5" x2="1120.0" y2="369" stroke="#fff" stroke-width="1.4" stroke-linecap="butt"/>
<rect x="1263" y="366.8" width="10" height="10.5" fill="#d858d8"/>
<line x1="1263" y1="377" x2="1273" y2="377" stroke="#be14be" stroke-width="2" stroke-linecap="butt"/>
<line x1="1265.0" y1="374.5" x2="1267.5" y2="369" stroke="#fff" stroke-width="1.4" stroke-linecap="butt"/>
<line x1="1269.5" y1="374.5" x2="1272.0" y2="369" stroke="#fff" stroke-width="1.4" stroke-linecap="butt"/>
<circle cx="474" cy="289.5" r="25" stroke="#cc30cc" stroke-width="1.7" fill="none"/>
<circle cx="526" cy="289.5" r="25" stroke="#cc30cc" stroke-width="1.7" fill="none"/>
<circle cx="752.5" cy="289.5" r="25" stroke="#cc30cc" stroke-width="1.7" fill="none"/>
<circle cx="805" cy="289.5" r="25" stroke="#cc30cc" stroke-width="1.7" fill="none"/>
<circle cx="1034" cy="289.5" r="25" stroke="#cc30cc" stroke-width="1.7" fill="none"/>
<circle cx="1086" cy="289.5" r="25" stroke="#cc30cc" stroke-width="1.7" fill="none"/>
<line x1="474" y1="314.5" x2="474" y2="338" stroke="#be14be" stroke-width="2" stroke-linecap="butt"/>
<line x1="752" y1="314.5" x2="752" y2="338" stroke="#be14be" stroke-width="2" stroke-linecap="butt"/>
<line x1="1034" y1="314.5" x2="1034" y2="338" stroke="#be14be" stroke-width="2" stroke-linecap="butt"/>
<circle cx="1005.4" cy="411.2" r="25.3" stroke="#cc30cc" stroke-width="1.7" fill="none"/>
<circle cx="1058" cy="411.2" r="25.3" stroke="#cc30cc" stroke-width="1.7" fill="none"/>
<line x1="1059" y1="366" x2="1059" y2="385" stroke="#be14be" stroke-width="2" stroke-linecap="butt"/>
<path d="M1005 386 Q1010 380 1016 376" stroke="#be14be" stroke-width="1.5" fill="none" />
<circle cx="1270.5" cy="410.6" r="26" stroke="#cc30cc" stroke-width="1.7" fill="none"/>
<line x1="326" y1="376.5" x2="326" y2="781" stroke="#3fcf3f" stroke-width="2" stroke-linecap="butt"/>
<line x1="309" y1="454" x2="665" y2="454" stroke="#e6ac26" stroke-width="2" stroke-linecap="butt"/>
<line x1="319" y1="461.5" x2="334" y2="446.5" stroke="#e6ac26" stroke-width="1.3" stroke-linecap="butt"/>
<line x1="658" y1="461.5" x2="673" y2="446.5" stroke="#e6ac26" stroke-width="1.3" stroke-linecap="butt"/>
<line x1="379" y1="360" x2="379" y2="797.5" stroke="#e6ac26" stroke-width="2" stroke-linecap="butt"/>
<line x1="371.25" y1="369.5" x2="386.25" y2="384.5" stroke="#e6ac26" stroke-width="1.3" stroke-linecap="butt"/>
<line x1="371.25" y1="774" x2="386.25" y2="789" stroke="#e6ac26" stroke-width="1.3" stroke-linecap="butt"/>
<line x1="660" y1="464" x2="1178" y2="464" stroke="#e6ac26" stroke-width="2" stroke-linecap="butt"/>
<line x1="1178" y1="462" x2="1273" y2="462" stroke="#e6ac26" stroke-width="2" stroke-linecap="butt"/>
<line x1="1178" y1="462.5" x2="1194" y2="462.5" stroke="#e6ac26" stroke-width="3" stroke-linecap="butt"/>
<line x1="1138" y1="376" x2="1167" y2="376" stroke="#e6ac26" stroke-width="2" stroke-linecap="butt"/>
<line x1="666" y1="470.75" x2="681" y2="455.75" stroke="#e6ac26" stroke-width="1.3" stroke-linecap="butt"/>
<line x1="1172" y1="468" x2="1187" y2="453" stroke="#e6ac26" stroke-width="1.3" stroke-linecap="butt"/>
<line x1="1187" y1="468" x2="1202" y2="453" stroke="#e6ac26" stroke-width="1.3" stroke-linecap="butt"/>
<line x1="665" y1="376.5" x2="665" y2="781" stroke="#3fcf3f" stroke-width="2" stroke-linecap="butt"/>
<line x1="673" y1="376.5" x2="673" y2="781" stroke="#3fcf3f" stroke-width="2" stroke-linecap="butt"/>
<line x1="665" y1="377.5" x2="665" y2="464" stroke="#e6ac26" stroke-width="2" stroke-linecap="butt"/>
<line x1="673" y1="377.5" x2="673" y2="464" stroke="#e6ac26" stroke-width="2" stroke-linecap="butt"/>
<line x1="1179" y1="376.5" x2="1179" y2="781" stroke="#3fcf3f" stroke-width="2" stroke-linecap="butt"/>
<line x1="1194" y1="376.5" x2="1194" y2="781" stroke="#3fcf3f" stroke-width="2" stroke-linecap="butt"/>
<line x1="1179" y1="376.5" x2="1179" y2="464" stroke="#e6ac26" stroke-width="2" stroke-linecap="butt"/>
<line x1="1194" y1="376.5" x2="1194" y2="464" stroke="#e6ac26" stroke-width="2" stroke-linecap="butt"/>
<line x1="1145" y1="360" x2="1145" y2="1240" stroke="#e6ac26" stroke-width="2" stroke-linecap="butt"/>
<line x1="1137" y1="369.5" x2="1152" y2="384.5" stroke="#e6ac26" stroke-width="1.3" stroke-linecap="butt"/>
<line x1="1137" y1="774" x2="1152" y2="789" stroke="#e6ac26" stroke-width="1.3" stroke-linecap="butt"/>
<line x1="1137" y1="823" x2="1152" y2="838" stroke="#e6ac26" stroke-width="1.3" stroke-linecap="butt"/>
<line x1="1137" y1="1128" x2="1152" y2="1143" stroke="#e6ac26" stroke-width="1.3" stroke-linecap="butt"/>
<line x1="1137" y1="1218" x2="1152" y2="1233" stroke="#e6ac26" stroke-width="1.3" stroke-linecap="butt"/>
<line x1="635" y1="314" x2="635" y2="1289" stroke="#e6ac26" stroke-width="2" stroke-linecap="butt"/>
<line x1="627" y1="321.5" x2="642" y2="336.5" stroke="#e6ac26" stroke-width="1.3" stroke-linecap="butt"/>
<line x1="627" y1="369.5" x2="642" y2="384.5" stroke="#e6ac26" stroke-width="1.3" stroke-linecap="butt"/>
<line x1="627" y1="614" x2="642" y2="629" stroke="#e6ac26" stroke-width="1.3" stroke-linecap="butt"/>
<line x1="627" y1="689" x2="642" y2="704" stroke="#e6ac26" stroke-width="1.3" stroke-linecap="butt"/>
<line x1="627" y1="774" x2="642" y2="789" stroke="#e6ac26" stroke-width="1.3" stroke-linecap="butt"/>
<line x1="627" y1="823" x2="642" y2="838" stroke="#e6ac26" stroke-width="1.3" stroke-linecap="butt"/>
<line x1="627" y1="897" x2="642" y2="912" stroke="#e6ac26" stroke-width="1.3" stroke-linecap="butt"/>
<line x1="627" y1="974" x2="642" y2="989" stroke="#e6ac26" stroke-width="1.3" stroke-linecap="butt"/>
<line x1="627" y1="1217" x2="642" y2="1232" stroke="#e6ac26" stroke-width="1.3" stroke-linecap="butt"/>
<line x1="627" y1="1265.5" x2="642" y2="1280.5" stroke="#e6ac26" stroke-width="1.3" stroke-linecap="butt"/>
<line x1="627" y1="328" x2="654" y2="328" stroke="#e6ac26" stroke-width="2" stroke-linecap="butt"/>
<line x1="630" y1="376" x2="650" y2="376" stroke="#e6ac26" stroke-width="2" stroke-linecap="butt"/>
<line x1="586" y1="621" x2="665" y2="621" stroke="#111111" stroke-width="2" stroke-linecap="butt"/>
<path d="M586 621 A79 79 0 0 0 665 700" stroke="#111111" stroke-width="1.5" fill="none" />
<line x1="665" y1="617" x2="665" y2="704" stroke="#111111" stroke-width="2" stroke-linecap="butt"/>
<line x1="673" y1="617" x2="673" y2="704" stroke="#111111" stroke-width="2" stroke-linecap="butt"/>
<line x1="663" y1="617" x2="675" y2="617" stroke="#111111" stroke-width="2" stroke-linecap="butt"/>
<line x1="663" y1="704" x2="675" y2="704" stroke="#111111" stroke-width="2" stroke-linecap="butt"/>
<line x1="665" y1="620" x2="673" y2="620" stroke="#3fcf3f" stroke-width="1.5" stroke-linecap="butt"/>
<line x1="665" y1="697" x2="673" y2="697" stroke="#3fcf3f" stroke-width="1.5" stroke-linecap="butt"/>
<line x1="567.5" y1="659" x2="724" y2="659" stroke="#111111" stroke-width="2" stroke-linecap="butt"/>
<line x1="673" y1="608" x2="805" y2="608" stroke="#3fcf3f" stroke-width="2" stroke-linecap="butt"/>
<line x1="805" y1="607.5" x2="805" y2="781" stroke="#3fcf3f" stroke-width="2" stroke-linecap="butt"/>
<line x1="673" y1="620" x2="793.75" y2="620" stroke="#3fcf3f" stroke-width="2" stroke-linecap="butt"/>
<line x1="794" y1="619.5" x2="794" y2="820" stroke="#3fcf3f" stroke-width="2" stroke-linecap="butt"/>
<line x1="309" y1="748" x2="1273" y2="748" stroke="#e6ac26" stroke-width="2" stroke-linecap="butt"/>
<line x1="319" y1="755.25" x2="334" y2="740.25" stroke="#e6ac26" stroke-width="1.3" stroke-linecap="butt"/>
<line x1="390" y1="755.25" x2="405" y2="740.25" stroke="#e6ac26" stroke-width="1.3" stroke-linecap="butt"/>
<line x1="468" y1="755.25" x2="483" y2="740.25" stroke="#e6ac26" stroke-width="1.3" stroke-linecap="butt"/>
<line x1="628" y1="755.25" x2="643" y2="740.25" stroke="#e6ac26" stroke-width="1.3" stroke-linecap="butt"/>
<line x1="658" y1="755.25" x2="673" y2="740.25" stroke="#e6ac26" stroke-width="1.3" stroke-linecap="butt"/>
<line x1="665.5" y1="755.25" x2="680.5" y2="740.25" stroke="#e6ac26" stroke-width="1.3" stroke-linecap="butt"/>
<line x1="705.5" y1="755.25" x2="720.5" y2="740.25" stroke="#e6ac26" stroke-width="1.3" stroke-linecap="butt"/>
<line x1="786.75" y1="755.25" x2="801.75" y2="740.25" stroke="#e6ac26" stroke-width="1.3" stroke-linecap="butt"/>
<line x1="913" y1="755.25" x2="928" y2="740.25" stroke="#e6ac26" stroke-width="1.3" stroke-linecap="butt"/>
<line x1="1010.5" y1="755.25" x2="1025.5" y2="740.25" stroke="#e6ac26" stroke-width="1.3" stroke-linecap="butt"/>
<line x1="1171" y1="755.25" x2="1186" y2="740.25" stroke="#e6ac26" stroke-width="1.3" stroke-linecap="butt"/>
<line x1="1187" y1="755.25" x2="1202" y2="740.25" stroke="#e6ac26" stroke-width="1.3" stroke-linecap="butt"/>
<line x1="397" y1="745" x2="397" y2="769" stroke="#e6ac26" stroke-width="2" stroke-linecap="butt"/>
<line x1="475" y1="745" x2="475" y2="769" stroke="#e6ac26" stroke-width="2" stroke-linecap="butt"/>
<line x1="712" y1="745" x2="712" y2="769" stroke="#e6ac26" stroke-width="2" stroke-linecap="butt"/>
<line x1="794" y1="745" x2="794" y2="769" stroke="#e6ac26" stroke-width="2" stroke-linecap="butt"/>
<line x1="920" y1="745" x2="920" y2="769" stroke="#e6ac26" stroke-width="2" stroke-linecap="butt"/>
<line x1="1018" y1="745" x2="1018" y2="769" stroke="#e6ac26" stroke-width="2" stroke-linecap="butt"/>
<line x1="326" y1="781" x2="665" y2="781" stroke="#3fcf3f" stroke-width="2" stroke-linecap="butt"/>
<line x1="672.5" y1="781" x2="713.75" y2="781" stroke="#3fcf3f" stroke-width="2" stroke-linecap="butt"/>
<line x1="804.5" y1="781" x2="920" y2="781" stroke="#3fcf3f" stroke-width="2" stroke-linecap="butt"/>
<line x1="1018.75" y1="781" x2="1178.75" y2="781" stroke="#3fcf3f" stroke-width="2" stroke-linecap="butt"/>
<line x1="1194.5" y1="781" x2="1273" y2="781" stroke="#3fcf3f" stroke-width="2" stroke-linecap="butt"/>
<line x1="337" y1="781" x2="389" y2="781" stroke="#e6ac26" stroke-width="2" stroke-linecap="butt"/>
<line x1="630" y1="781" x2="650" y2="781" stroke="#e6ac26" stroke-width="2" stroke-linecap="butt"/>
<line x1="1030" y1="781" x2="1166" y2="781" stroke="#e6ac26" stroke-width="2" stroke-linecap="butt"/>
<line x1="397" y1="781" x2="397" y2="830" stroke="#3fcf3f" stroke-width="2" stroke-linecap="butt"/>
<line x1="326" y1="830" x2="397" y2="830" stroke="#3fcf3f" stroke-width="2" stroke-linecap="butt"/>
<line x1="475" y1="781" x2="475" y2="830" stroke="#3fcf3f" stroke-width="2" stroke-linecap="butt"/>
<line x1="475" y1="830" x2="606.25" y2="830" stroke="#3fcf3f" stroke-width="2" stroke-linecap="butt"/>
<line x1="606" y1="830" x2="606" y2="1224" stroke="#3fcf3f" stroke-width="2" stroke-linecap="butt"/>
<line x1="615" y1="830" x2="615" y2="1224" stroke="#3fcf3f" stroke-width="2" stroke-linecap="butt"/>
<line x1="615" y1="830" x2="715" y2="830" stroke="#3fcf3f" stroke-width="2" stroke-linecap="butt"/>
<line x1="630" y1="830" x2="650" y2="830" stroke="#e6ac26" stroke-width="2" stroke-linecap="butt"/>
<line x1="326" y1="830" x2="326" y2="968" stroke="#3fcf3f" stroke-width="2" stroke-linecap="butt"/>
<line x1="277" y1="968" x2="326" y2="968" stroke="#3fcf3f" stroke-width="2" stroke-linecap="butt"/>
<line x1="286" y1="968" x2="286" y2="1096" stroke="#111111" stroke-width="2" stroke-linecap="butt"/>
<line x1="292" y1="968" x2="292" y2="1096" stroke="#111111" stroke-width="2" stroke-linecap="butt"/>
<line x1="312" y1="968" x2="312" y2="1096" stroke="#111111" stroke-width="2" stroke-linecap="butt"/>
<line x1="277" y1="968" x2="277" y2="1096" stroke="#111111" stroke-width="2" stroke-linecap="butt"/>
<line x1="277" y1="1096" x2="325" y2="1096" stroke="#3fcf3f" stroke-width="2" stroke-linecap="butt"/>
<line x1="325" y1="1096" x2="325" y2="1224" stroke="#3fcf3f" stroke-width="2" stroke-linecap="butt"/>
<line x1="325" y1="1135" x2="325" y2="1207" stroke="#e6ac26" stroke-width="2" stroke-linecap="butt"/>
<line x1="325" y1="1224" x2="606.25" y2="1224" stroke="#6fdf6f" stroke-width="2" stroke-linecap="butt"/>
<line x1="277" y1="1272" x2="681.25" y2="1272" stroke="#6fdf6f" stroke-width="2" stroke-linecap="butt"/>
<line x1="600" y1="1272" x2="630" y2="1272" stroke="#3fcf3f" stroke-width="2" stroke-linecap="butt"/>
<line x1="630" y1="1272" x2="667" y2="1272" stroke="#e6ac26" stroke-width="2" stroke-linecap="butt"/>
<line x1="667" y1="1272" x2="681.25" y2="1272" stroke="#3fcf3f" stroke-width="2" stroke-linecap="butt"/>
<line x1="277" y1="1135" x2="277" y2="1182" stroke="#e6ac26" stroke-width="2" stroke-linecap="butt"/>
<line x1="261" y1="1135" x2="1273" y2="1135" stroke="#e6ac26" stroke-width="2" stroke-linecap="butt"/>
<line x1="270" y1="1142" x2="285" y2="1127" stroke="#e6ac26" stroke-width="1.3" stroke-linecap="butt"/>
<line x1="318" y1="1142" x2="333" y2="1127" stroke="#e6ac26" stroke-width="1.3" stroke-linecap="butt"/>
<line x1="599.25" y1="1142" x2="614.25" y2="1127" stroke="#e6ac26" stroke-width="1.3" stroke-linecap="butt"/>
<line x1="608" y1="1142" x2="623" y2="1127" stroke="#e6ac26" stroke-width="1.3" stroke-linecap="butt"/>
<line x1="843" y1="1142" x2="858" y2="1127" stroke="#e6ac26" stroke-width="1.3" stroke-linecap="butt"/>
<line x1="1008" y1="1142" x2="1023" y2="1127" stroke="#e6ac26" stroke-width="1.3" stroke-linecap="butt"/>
<line x1="1018" y1="1142" x2="1033" y2="1127" stroke="#e6ac26" stroke-width="1.3" stroke-linecap="butt"/>
<line x1="1106.75" y1="1142" x2="1121.75" y2="1127" stroke="#e6ac26" stroke-width="1.3" stroke-linecap="butt"/>
<line x1="1115.5" y1="1142" x2="1130.5" y2="1127" stroke="#e6ac26" stroke-width="1.3" stroke-linecap="butt"/>
<line x1="1180.5" y1="1142" x2="1195.5" y2="1127" stroke="#e6ac26" stroke-width="1.3" stroke-linecap="butt"/>
<line x1="1211.75" y1="1142" x2="1226.75" y2="1127" stroke="#e6ac26" stroke-width="1.3" stroke-linecap="butt"/>
<line x1="606" y1="1136" x2="606" y2="1212" stroke="#e6ac26" stroke-width="2" stroke-linecap="butt"/>
<line x1="615" y1="1134" x2="615" y2="1197" stroke="#e6ac26" stroke-width="2" stroke-linecap="butt"/>
<path d="M167.5 834 L178.75 814 L178.75 870" stroke="#111111" stroke-width="2" fill="none" />
<rect x="178.75" y="865.5" width="13.75" height="10" fill="#111111"/>
<rect x="216" y="865.5" width="24" height="10" fill="#111111"/>
<rect x="264" y="865.5" width="25" height="10" fill="#111111"/>
<rect x="312.5" y="865.5" width="12.5" height="10" fill="#111111"/>
<rect x="202.75" y="865.5" width="2" height="10" fill="#111111"/>
<rect x="251.5" y="865.5" width="2" height="10" fill="#111111"/>
<rect x="300.25" y="865.5" width="2" height="10" fill="#111111"/>
<circle cx="347.5" cy="989" r="25.5" stroke="#cc30cc" stroke-width="1.7" fill="none"/>
<circle cx="347.5" cy="1042" r="25.5" stroke="#cc30cc" stroke-width="1.7" fill="none"/>
<line x1="292.5" y1="1044" x2="321" y2="1044" stroke="#be14be" stroke-width="2" stroke-linecap="butt"/>
<circle cx="208.75" cy="456" r="26" stroke="#cc30cc" stroke-width="1.7" fill="none"/>
<circle cx="303.75" cy="1231" r="25" stroke="#cc30cc" stroke-width="1.7" fill="none"/>
<line x1="231" y1="402" x2="243.5" y2="402" stroke="#be14be" stroke-width="2" stroke-linecap="butt"/>
<line x1="261.5" y1="402" x2="271" y2="402" stroke="#be14be" stroke-width="2" stroke-linecap="butt"/>
<rect x="247.5" y="400.7" width="2" height="2" fill="#7a2a7a"/>
<rect x="255" y="400.7" width="2" height="2" fill="#7a2a7a"/>
<line x1="231" y1="410" x2="243.5" y2="410" stroke="#be14be" stroke-width="2" stroke-linecap="butt"/>
<line x1="261.5" y1="410" x2="271" y2="410" stroke="#be14be" stroke-width="2" stroke-linecap="butt"/>
<rect x="247.5" y="409.3" width="2" height="2" fill="#7a2a7a"/>
<rect x="255" y="409.3" width="2" height="2" fill="#7a2a7a"/>
<rect x="266" y="401" width="7" height="8" fill="none" stroke="#111111" stroke-width="1.6" stroke-dasharray="2 2"/>
<line x1="270.7" y1="410.3" x2="230.6" y2="439" stroke="#be14be" stroke-width="1.6" stroke-linecap="butt"/>
<line x1="231" y1="1192" x2="243.5" y2="1192" stroke="#be14be" stroke-width="2" stroke-linecap="butt"/>
<line x1="261.5" y1="1192" x2="271" y2="1192" stroke="#be14be" stroke-width="2" stroke-linecap="butt"/>
<rect x="247.5" y="1190.7" width="2" height="2" fill="#7a2a7a"/>
<rect x="255" y="1190.7" width="2" height="2" fill="#7a2a7a"/>
<line x1="231" y1="1200" x2="243.5" y2="1200" stroke="#be14be" stroke-width="2" stroke-linecap="butt"/>
<line x1="261.5" y1="1200" x2="271" y2="1200" stroke="#be14be" stroke-width="2" stroke-linecap="butt"/>
<rect x="247.5" y="1199.3" width="2" height="2" fill="#7a2a7a"/>
<rect x="255" y="1199.3" width="2" height="2" fill="#7a2a7a"/>
<rect x="266" y="1191" width="7" height="8" fill="none" stroke="#111111" stroke-width="1.6" stroke-dasharray="2 2"/>
<line x1="270.7" y1="1200.3" x2="286" y2="1212" stroke="#be14be" stroke-width="1.6" stroke-linecap="butt"/>
<line x1="528.75" y1="904" x2="606.25" y2="904" stroke="#111111" stroke-width="2" stroke-linecap="butt"/>
<path d="M528.75 903.75 A77.5 77.5 0 0 0 606.25 981.25" stroke="#111111" stroke-width="1.5" fill="none" />
<line x1="606" y1="900" x2="606" y2="985" stroke="#111111" stroke-width="2" stroke-linecap="butt"/>
<line x1="615" y1="900" x2="615" y2="985" stroke="#111111" stroke-width="2" stroke-linecap="butt"/>
<line x1="604" y1="900.5" x2="617" y2="900.5" stroke="#111111" stroke-width="3" stroke-linecap="butt"/>
<line x1="604" y1="984" x2="617" y2="984" stroke="#111111" stroke-width="3" stroke-linecap="butt"/>
<line x1="510" y1="941" x2="665" y2="941" stroke="#111111" stroke-width="2" stroke-linecap="butt"/>
<line x1="713" y1="781" x2="713" y2="820" stroke="#3fcf3f" stroke-width="2" stroke-linecap="butt"/>
<line x1="713" y1="820" x2="723" y2="820" stroke="#3fcf3f" stroke-width="2" stroke-linecap="butt"/>
<line x1="781.5" y1="820" x2="794" y2="820" stroke="#3fcf3f" stroke-width="2" stroke-linecap="butt"/>
<line x1="723" y1="761.25" x2="723" y2="820" stroke="#111111" stroke-width="2" stroke-linecap="butt"/>
<path d="M723.1 761.25 A58.75 58.75 0 0 1 781.85 820" stroke="#111111" stroke-width="1.5" fill="none" />
<line x1="723" y1="819" x2="781.5" y2="819" stroke="#111111" stroke-width="2" stroke-linecap="butt"/>
<line x1="718" y1="830" x2="787" y2="830" stroke="#111111" stroke-width="2" stroke-linecap="butt"/>
<line x1="718" y1="820" x2="718" y2="831" stroke="#111111" stroke-width="2" stroke-linecap="butt"/>
<line x1="787" y1="820" x2="787" y2="831" stroke="#111111" stroke-width="2" stroke-linecap="butt"/>
<line x1="722.5" y1="820" x2="722.5" y2="830" stroke="#3fcf3f" stroke-width="1.5" stroke-linecap="butt"/>
<line x1="781.5" y1="820" x2="781.5" y2="830" stroke="#3fcf3f" stroke-width="1.5" stroke-linecap="butt"/>
<line x1="712.5" y1="781" x2="794" y2="781" stroke="#111111" stroke-width="2" stroke-dasharray="12 4 3 4" stroke-dashoffset="0" stroke-linecap="butt"/>
<line x1="751" y1="723.75" x2="751" y2="878" stroke="#111111" stroke-width="2" stroke-linecap="butt"/>
<line x1="920" y1="781" x2="920" y2="820" stroke="#3fcf3f" stroke-width="2" stroke-linecap="butt"/>
<line x1="920" y1="820" x2="932" y2="820" stroke="#3fcf3f" stroke-width="2" stroke-linecap="butt"/>
<line x1="1018" y1="781" x2="1018" y2="820" stroke="#3fcf3f" stroke-width="2" stroke-linecap="butt"/>
<line x1="1009" y1="820" x2="1018" y2="820" stroke="#3fcf3f" stroke-width="2" stroke-linecap="butt"/>
<line x1="1009" y1="744" x2="1009" y2="820" stroke="#111111" stroke-width="2" stroke-linecap="butt"/>
<line x1="1002.5" y1="744" x2="1010" y2="744" stroke="#111111" stroke-width="2" stroke-linecap="butt"/>
<path d="M931.4 819.4 A78 76 0 0 1 1005 744" stroke="#111111" stroke-width="1.5" fill="none" />
<line x1="932" y1="819" x2="1009.4" y2="819" stroke="#111111" stroke-width="2" stroke-linecap="butt"/>
<line x1="932" y1="830" x2="1009" y2="830" stroke="#111111" stroke-width="2" stroke-linecap="butt"/>
<line x1="928" y1="820" x2="928" y2="831" stroke="#111111" stroke-width="2" stroke-linecap="butt"/>
<line x1="1014" y1="820" x2="1014" y2="831" stroke="#111111" stroke-width="2" stroke-linecap="butt"/>
<line x1="932" y1="820" x2="932" y2="830" stroke="#3fcf3f" stroke-width="1.5" stroke-linecap="butt"/>
<line x1="1009" y1="820" x2="1009" y2="830" stroke="#3fcf3f" stroke-width="1.5" stroke-linecap="butt"/>
<line x1="920" y1="781" x2="1018" y2="781" stroke="#111111" stroke-width="2" stroke-dasharray="12 4 3 4" stroke-dashoffset="0" stroke-linecap="butt"/>
<line x1="969" y1="723.75" x2="969" y2="878" stroke="#111111" stroke-width="2" stroke-linecap="butt"/>
<line x1="851.25" y1="830" x2="927.5" y2="830" stroke="#3fcf3f" stroke-width="2" stroke-linecap="butt"/>
<line x1="1013.75" y1="830" x2="1030.6" y2="830" stroke="#3fcf3f" stroke-width="2" stroke-linecap="butt"/>
<line x1="1030.6" y1="830" x2="1202.5" y2="830" stroke="#e6ac26" stroke-width="2" stroke-linecap="butt"/>
<line x1="1202.5" y1="830" x2="1218.75" y2="830" stroke="#3fcf3f" stroke-width="2" stroke-linecap="butt"/>
<line x1="615" y1="830" x2="718" y2="830" stroke="#3fcf3f" stroke-width="2" stroke-linecap="butt"/>
<line x1="787" y1="830" x2="841.9" y2="830" stroke="#3fcf3f" stroke-width="2" stroke-linecap="butt"/>
<line x1="842" y1="830" x2="842" y2="839" stroke="#3fcf3f" stroke-width="2" stroke-linecap="butt"/>
<line x1="851" y1="830" x2="851" y2="839" stroke="#3fcf3f" stroke-width="2" stroke-linecap="butt"/>
<line x1="841" y1="834" x2="852" y2="834" stroke="#111111" stroke-width="2" stroke-linecap="butt"/>
<line x1="841.9" y1="838.75" x2="851.25" y2="838.75" stroke="#3fcf3f" stroke-width="1.5" stroke-linecap="butt"/>
<line x1="842" y1="839" x2="842" y2="917.5" stroke="#111111" stroke-width="2" stroke-dasharray="11 6 2 5 2 6" stroke-dashoffset="0" stroke-linecap="butt"/>
<line x1="850" y1="839" x2="850" y2="917.5" stroke="#111111" stroke-width="2" stroke-dasharray="11 6 2 5 2 6" stroke-dashoffset="0" stroke-linecap="butt"/>
<line x1="841" y1="917" x2="852" y2="917" stroke="#111111" stroke-width="2.5" stroke-linecap="butt"/>
<line x1="817.5" y1="878" x2="934" y2="878" stroke="#111111" stroke-width="2" stroke-linecap="butt"/>
<line x1="826" y1="915" x2="931" y2="915" stroke="#e6ac26" stroke-width="2" stroke-linecap="butt"/>
<line x1="835.5" y1="922" x2="850.5" y2="907" stroke="#e6ac26" stroke-width="1.3" stroke-linecap="butt"/>
<line x1="908" y1="922" x2="923" y2="907" stroke="#e6ac26" stroke-width="1.3" stroke-linecap="butt"/>
<line x1="842" y1="917" x2="842" y2="1134" stroke="#3fcf3f" stroke-width="2" stroke-linecap="butt"/>
<line x1="842" y1="1134" x2="842" y2="1212" stroke="#e6ac26" stroke-width="2" stroke-linecap="butt"/>
<line x1="851" y1="917" x2="851" y2="926" stroke="#3fcf3f" stroke-width="2" stroke-linecap="butt"/>
<line x1="851" y1="926" x2="915" y2="926" stroke="#3fcf3f" stroke-width="2" stroke-linecap="butt"/>
<line x1="915" y1="926" x2="915" y2="956" stroke="#3fcf3f" stroke-width="2" stroke-linecap="butt"/>
<line x1="915" y1="956" x2="1025" y2="956" stroke="#3fcf3f" stroke-width="2" stroke-linecap="butt"/>
<line x1="1025" y1="1051" x2="1025" y2="1134" stroke="#3fcf3f" stroke-width="2" stroke-linecap="butt"/>
<line x1="1025" y1="1134" x2="1025" y2="1197" stroke="#e6ac26" stroke-width="2" stroke-linecap="butt"/>
<line x1="1025" y1="1196" x2="1025" y2="1213" stroke="#111111" stroke-width="2" stroke-linecap="butt"/>
<line x1="1014" y1="1058" x2="1014" y2="1133" stroke="#3fcf3f" stroke-width="2" stroke-linecap="butt"/>
<line x1="1013.75" y1="1212.3" x2="1025" y2="1212.3" stroke="#3fcf3f" stroke-width="1.5" stroke-linecap="butt"/>
<line x1="915" y1="969" x2="1013.75" y2="969" stroke="#3fcf3f" stroke-width="2" stroke-linecap="butt"/>
<line x1="1014" y1="969" x2="1014" y2="989" stroke="#3fcf3f" stroke-width="2" stroke-linecap="butt"/>
<line x1="915" y1="969" x2="915" y2="1005" stroke="#3fcf3f" stroke-width="2" stroke-linecap="butt"/>
<line x1="851" y1="1005" x2="915" y2="1005" stroke="#3fcf3f" stroke-width="2" stroke-linecap="butt"/>
<line x1="851" y1="1005" x2="851" y2="1075" stroke="#3fcf3f" stroke-width="2" stroke-linecap="butt"/>
<line x1="880" y1="915" x2="880" y2="1020" stroke="#e6ac26" stroke-width="2" stroke-linecap="butt"/>
<line x1="872" y1="919" x2="887" y2="934" stroke="#e6ac26" stroke-width="1.3" stroke-linecap="butt"/>
<line x1="872" y1="998" x2="887" y2="1013" stroke="#e6ac26" stroke-width="1.3" stroke-linecap="butt"/>
<circle cx="865" cy="950" r="3.8" stroke="#111111" stroke-width="2.4" fill="none"/>
<circle cx="894" cy="950" r="3.8" stroke="#111111" stroke-width="2.4" fill="none"/>
<circle cx="865" cy="979" r="3.8" stroke="#111111" stroke-width="2.4" fill="none"/>
<circle cx="894" cy="979" r="3.8" stroke="#111111" stroke-width="2.4" fill="none"/>
<line x1="784" y1="942.5" x2="784" y2="1191.25" stroke="#111111" stroke-width="2" stroke-linecap="butt"/>
<line x1="784.5" y1="942" x2="842.5" y2="942" stroke="#111111" stroke-width="2" stroke-linecap="butt"/>
<line x1="784.5" y1="1132" x2="842.5" y2="1132" stroke="#111111" stroke-width="2" stroke-linecap="butt"/>
<line x1="784.5" y1="1191" x2="842.5" y2="1191" stroke="#111111" stroke-width="2" stroke-linecap="butt"/>
<circle cx="798.75" cy="1147.5" r="9.5" stroke="#111111" stroke-width="1.5" fill="none"/>
<circle cx="827.5" cy="1147.5" r="9.5" stroke="#111111" stroke-width="1.5" fill="none"/>
<circle cx="798.75" cy="1176.25" r="9.5" stroke="#111111" stroke-width="1.5" fill="none"/>
<circle cx="827.5" cy="1176.25" r="9.5" stroke="#111111" stroke-width="1.5" fill="none"/>
<rect x="791" y="1024" width="43" height="42" rx="5" fill="none" stroke="#111111" stroke-width="2"/>
<line x1="825" y1="1035" x2="842" y2="1035" stroke="#111111" stroke-width="2" stroke-linecap="butt"/>
<line x1="825" y1="1053" x2="842" y2="1053" stroke="#111111" stroke-width="2" stroke-linecap="butt"/>
<line x1="829" y1="1030" x2="829" y2="1058" stroke="#111111" stroke-width="2" stroke-linecap="butt"/>
<line x1="834" y1="1030" x2="834" y2="1058" stroke="#111111" stroke-width="2" stroke-linecap="butt"/>
<path d="M855 1011 L893 1011 Q900 1011 900 1018 L900 1062 Q900 1069 893 1069 L855 1069 Z" fill="none" stroke="#111111" stroke-width="2"/>
<rect x="861" y="1017" width="34" height="47" fill="none" stroke="#111111" stroke-width="2"/>
<line x1="851" y1="1032" x2="875" y2="1032" stroke="#111111" stroke-width="2" stroke-linecap="butt"/>
<line x1="851" y1="1049" x2="875" y2="1049" stroke="#111111" stroke-width="2" stroke-linecap="butt"/>
<line x1="859" y1="1027" x2="859" y2="1054" stroke="#111111" stroke-width="2" stroke-linecap="butt"/>
<line x1="868" y1="1025" x2="868" y2="1055" stroke="#111111" stroke-width="2" stroke-linecap="butt"/>
<rect x="851.25" y="1075" width="165" height="67.5" fill="none" stroke="#111111" stroke-width="2"/>
<path d="M857 1142 L857 1079 L983 1079 A27 30 0 0 1 983 1138 L857 1138" stroke="#111111" stroke-width="1.5" fill="none" />
<line x1="851" y1="1104" x2="874" y2="1104" stroke="#111111" stroke-width="2" stroke-linecap="butt"/>
<line x1="851" y1="1116" x2="874" y2="1116" stroke="#111111" stroke-width="2" stroke-linecap="butt"/>
<line x1="858" y1="1099" x2="858" y2="1121" stroke="#111111" stroke-width="2" stroke-linecap="butt"/>
<line x1="869" y1="1097" x2="869" y2="1123" stroke="#111111" stroke-width="2" stroke-linecap="butt"/>
<circle cx="882.5" cy="1109" r="4.5" stroke="#111111" stroke-width="2" fill="none"/>
<rect x="935.5" y="970.5" width="58" height="57" fill="none" stroke="#888" stroke-width="2"/>
<path d="M936.2 1026.2 L963.4 990.8 L965 1008 L992.2 970.6" stroke="#111111" stroke-width="1.8" fill="none" stroke-dasharray="2.5 1.5"/>
<path d="M970 1021.3 L970 992.8 L983.6 992.8 Q989 994 989 1000.7 Q989 1008.3 983 1008.3 L970.4 1008.3" stroke="#666" stroke-width="1.6" fill="none" />
<line x1="915" y1="958" x2="1025.5" y2="958" stroke="#3fcf3f" stroke-width="2" stroke-linecap="butt"/>
<line x1="1026" y1="957.5" x2="1026" y2="988.75" stroke="#3fcf3f" stroke-width="2" stroke-linecap="butt"/>
<line x1="1014" y1="989" x2="1014" y2="1058.75" stroke="#111111" stroke-width="2" stroke-linecap="butt"/>
<line x1="1012.5" y1="988.75" x2="1026.5" y2="988.75" stroke="#111111" stroke-width="2.5" stroke-linecap="butt"/>
<line x1="1014" y1="993" x2="1025" y2="993" stroke="#3fcf3f" stroke-width="1.5" stroke-linecap="butt"/>
<line x1="1025" y1="992" x2="1025" y2="1051" stroke="#111111" stroke-width="2" stroke-linecap="butt"/>
<line x1="1025" y1="1051" x2="1083" y2="1051" stroke="#111111" stroke-width="2" stroke-linecap="butt"/>
<path d="M1025.6 992.6 A58 58 0 0 1 1083 1050.6" stroke="#111111" stroke-width="1.5" fill="none" />
<line x1="1012.5" y1="1057.5" x2="1026" y2="1057.5" stroke="#111111" stroke-width="2.5" stroke-linecap="butt"/>
<line x1="1014" y1="1052" x2="1025" y2="1052" stroke="#3fcf3f" stroke-width="1.5" stroke-linecap="butt"/>
<line x1="966.4" y1="1022" x2="1121.9" y2="1022" stroke="#111111" stroke-width="2" stroke-linecap="butt"/>
<line x1="851" y1="1154" x2="1024" y2="1154" stroke="#3fcf3f" stroke-width="2" stroke-linecap="butt"/>
<line x1="851" y1="1154" x2="851" y2="1225" stroke="#3fcf3f" stroke-width="2" stroke-linecap="butt"/>
<rect x="880" y="1154" width="9" height="71" fill="none" stroke="#be14be" stroke-width="1.5"/>
<line x1="882" y1="1160.0" x2="887" y2="1157.0" stroke="#be14be" stroke-width="1.2" stroke-linecap="butt"/>
<line x1="882" y1="1165.3" x2="887" y2="1162.3" stroke="#be14be" stroke-width="1.2" stroke-linecap="butt"/>
<line x1="882" y1="1170.6" x2="887" y2="1167.6" stroke="#be14be" stroke-width="1.2" stroke-linecap="butt"/>
<line x1="882" y1="1175.9" x2="887" y2="1172.9" stroke="#be14be" stroke-width="1.2" stroke-linecap="butt"/>
<line x1="882" y1="1181.2" x2="887" y2="1178.2" stroke="#be14be" stroke-width="1.2" stroke-linecap="butt"/>
<line x1="882" y1="1186.5" x2="887" y2="1183.5" stroke="#be14be" stroke-width="1.2" stroke-linecap="butt"/>
<line x1="882" y1="1191.8" x2="887" y2="1188.8" stroke="#be14be" stroke-width="1.2" stroke-linecap="butt"/>
<line x1="882" y1="1197.1" x2="887" y2="1194.1" stroke="#be14be" stroke-width="1.2" stroke-linecap="butt"/>
<line x1="882" y1="1202.4" x2="887" y2="1199.4" stroke="#be14be" stroke-width="1.2" stroke-linecap="butt"/>
<line x1="882" y1="1207.7" x2="887" y2="1204.7" stroke="#be14be" stroke-width="1.2" stroke-linecap="butt"/>
<line x1="882" y1="1213.0" x2="887" y2="1210.0" stroke="#be14be" stroke-width="1.2" stroke-linecap="butt"/>
<line x1="882" y1="1218.3" x2="887" y2="1215.3" stroke="#be14be" stroke-width="1.2" stroke-linecap="butt"/>
<line x1="882" y1="1223.6" x2="887" y2="1220.6" stroke="#be14be" stroke-width="1.2" stroke-linecap="butt"/>
<rect x="891.5" y="1169" width="13.5" height="40" fill="none" stroke="#111111" stroke-width="2"/>
<ellipse cx="928.75" cy="1187.5" rx="21" ry="19" fill="none" stroke="#111111" stroke-width="1.8"/>
<ellipse cx="930" cy="1187.5" rx="14" ry="11" fill="none" stroke="#111111" stroke-width="1.8"/>
<line x1="955" y1="1155" x2="1013.75" y2="1155" stroke="#111111" stroke-width="2" stroke-linecap="butt"/>
<path d="M955 1155 A58.75 58.75 0 0 0 1013.75 1213.75" stroke="#111111" stroke-width="1.5" fill="none" />
<line x1="1014" y1="1155" x2="1014" y2="1214" stroke="#111111" stroke-width="2" stroke-linecap="butt"/>
<line x1="1012" y1="1150" x2="1025" y2="1150" stroke="#111111" stroke-width="2" stroke-linecap="butt"/>
<line x1="1012" y1="1217" x2="1025" y2="1217" stroke="#111111" stroke-width="2" stroke-linecap="butt"/>
<line x1="915" y1="1184" x2="1172.5" y2="1184" stroke="#111111" stroke-width="2" stroke-linecap="butt"/>
<circle cx="843.75" cy="1226" r="26" stroke="#cc30cc" stroke-width="1.7" fill="none"/>
<line x1="867" y1="1212" x2="881" y2="1204" stroke="#be14be" stroke-width="1.5" stroke-linecap="butt"/>
<line x1="1108.75" y1="835" x2="1187.5" y2="835" stroke="#111111" stroke-width="2" stroke-linecap="butt"/>
<path d="M1109.5 835 A78 78 0 0 0 1187.5 913" stroke="#111111" stroke-width="1.5" fill="none" />
<line x1="1188" y1="835" x2="1188" y2="918.3" stroke="#111111" stroke-width="2" stroke-linecap="butt"/>
<line x1="1197" y1="833" x2="1197" y2="912.4" stroke="#111111" stroke-width="2" stroke-linecap="butt"/>
<line x1="1187.5" y1="833" x2="1197" y2="833" stroke="#3fcf3f" stroke-width="1.5" stroke-linecap="butt"/>
<line x1="1187.5" y1="913.5" x2="1197" y2="913.5" stroke="#3fcf3f" stroke-width="1.5" stroke-linecap="butt"/>
<line x1="1187.5" y1="918" x2="1196" y2="918" stroke="#111111" stroke-width="2" stroke-linecap="butt"/>
<line x1="1088.75" y1="872" x2="1246.25" y2="872" stroke="#111111" stroke-width="2" stroke-linecap="butt"/>
<line x1="1186" y1="884" x2="1232.5" y2="884" stroke="#e6ac26" stroke-width="2" stroke-linecap="butt"/>
<line x1="1211.75" y1="890.75" x2="1226.75" y2="875.75" stroke="#e6ac26" stroke-width="1.3" stroke-linecap="butt"/>
<line x1="1219" y1="830" x2="1219" y2="917.5" stroke="#111111" stroke-width="2" stroke-dasharray="12 4 3 4" stroke-dashoffset="0" stroke-linecap="butt"/>
<line x1="1188" y1="917.5" x2="1188" y2="1224" stroke="#3fcf3f" stroke-width="2" stroke-linecap="butt"/>
<line x1="1113.75" y1="1100" x2="1187.5" y2="1100" stroke="#3fcf3f" stroke-width="2" stroke-linecap="butt"/>
<line x1="1114" y1="1100" x2="1114" y2="1224" stroke="#3fcf3f" stroke-width="2" stroke-linecap="butt"/>
<line x1="1122.5" y1="1109" x2="1187.5" y2="1109" stroke="#3fcf3f" stroke-width="2" stroke-linecap="butt"/>
<line x1="1122.5" y1="1224" x2="1187.5" y2="1224" stroke="#3fcf3f" stroke-width="2" stroke-linecap="butt"/>
<line x1="1122" y1="1109" x2="1122" y2="1224" stroke="#3fcf3f" stroke-width="2" stroke-linecap="butt"/>
<line x1="1219" y1="917.5" x2="1219" y2="1244" stroke="#3fcf3f" stroke-width="2" stroke-linecap="butt"/>
<line x1="1196" y1="918" x2="1218.75" y2="918" stroke="#3fcf3f" stroke-width="2" stroke-linecap="butt"/>
<line x1="1218.75" y1="941" x2="1272" y2="941" stroke="#111111" stroke-width="2" stroke-linecap="butt"/>
<line x1="1218.75" y1="966" x2="1272" y2="966" stroke="#111111" stroke-width="2" stroke-linecap="butt"/>
<line x1="1218.75" y1="991" x2="1272" y2="991" stroke="#111111" stroke-width="2" stroke-linecap="butt"/>
<line x1="1218.75" y1="1018" x2="1272" y2="1018" stroke="#111111" stroke-width="2" stroke-linecap="butt"/>
<line x1="1218.75" y1="1042" x2="1272" y2="1042" stroke="#111111" stroke-width="2" stroke-linecap="butt"/>
<line x1="1218.75" y1="1066" x2="1272" y2="1066" stroke="#111111" stroke-width="2" stroke-linecap="butt"/>
<line x1="1218.75" y1="1091" x2="1272" y2="1091" stroke="#111111" stroke-width="2" stroke-linecap="butt"/>
<line x1="1218.75" y1="1116" x2="1272" y2="1116" stroke="#111111" stroke-width="2" stroke-linecap="butt"/>
<line x1="1272" y1="941" x2="1272" y2="1170" stroke="#111111" stroke-width="2" stroke-linecap="butt"/>
<line x1="1259" y1="964" x2="1271" y2="944" stroke="#111111" stroke-width="1.5" stroke-linecap="butt"/>
<line x1="1218.75" y1="815" x2="1273" y2="815" stroke="#3fcf3f" stroke-width="2" stroke-linecap="butt"/>
<line x1="1219" y1="815" x2="1219" y2="830" stroke="#3fcf3f" stroke-width="2" stroke-linecap="butt"/>
<line x1="1222.1" y1="817.4" x2="1222.1" y2="832.2" stroke="#be14be" stroke-width="1.8" stroke-linecap="butt"/>
<line x1="1230.2" y1="817.4" x2="1230.2" y2="832.2" stroke="#be14be" stroke-width="1.8" stroke-linecap="butt"/>
<line x1="1238.3" y1="817.4" x2="1238.3" y2="832.2" stroke="#be14be" stroke-width="1.8" stroke-linecap="butt"/>
<line x1="1219" y1="819.6" x2="1243.5" y2="819.6" stroke="#be14be" stroke-width="1.8" stroke-linecap="butt"/>
<line x1="1243.5" y1="821.1" x2="1271.5" y2="833.6" stroke="#be14be" stroke-width="1.6" stroke-dasharray="4 2" stroke-dashoffset="0" stroke-linecap="butt"/>
<line x1="1056" y1="1212" x2="1113.75" y2="1212" stroke="#111111" stroke-width="2" stroke-linecap="butt"/>
<path d="M1056.25 1212.5 A57.5 57.5 0 0 1 1113.75 1155" stroke="#111111" stroke-width="1.5" fill="none" />
<line x1="1114" y1="1155" x2="1114" y2="1212.5" stroke="#111111" stroke-width="2" stroke-linecap="butt"/>
<line x1="1122" y1="1150" x2="1122" y2="1217" stroke="#111111" stroke-width="2" stroke-linecap="butt"/>
<line x1="1000" y1="1184" x2="1172.5" y2="1184" stroke="#111111" stroke-width="2" stroke-linecap="butt"/>
<line x1="1010" y1="1217" x2="1010" y2="1272.5" stroke="#3fcf3f" stroke-width="2" stroke-linecap="butt"/>
<line x1="1025" y1="1212" x2="1025" y2="1272.5" stroke="#3fcf3f" stroke-width="2" stroke-linecap="butt"/>
<line x1="1010" y1="1218" x2="1025" y2="1218" stroke="#3fcf3f" stroke-width="2" stroke-linecap="butt"/>
<line x1="1078.75" y1="1224" x2="1113.75" y2="1224" stroke="#3fcf3f" stroke-width="2" stroke-linecap="butt"/>
<line x1="1079" y1="1224" x2="1079" y2="1272.5" stroke="#3fcf3f" stroke-width="2" stroke-linecap="butt"/>
<line x1="615" y1="1224" x2="681.25" y2="1224" stroke="#3fcf3f" stroke-width="2" stroke-linecap="butt"/>
<line x1="681" y1="1224" x2="681" y2="1272.5" stroke="#3fcf3f" stroke-width="2" stroke-linecap="butt"/>
<line x1="681.25" y1="1236" x2="808.75" y2="1236" stroke="#111111" stroke-width="2" stroke-linecap="butt"/>
<line x1="681.25" y1="1258" x2="808.75" y2="1258" stroke="#111111" stroke-width="2" stroke-linecap="butt"/>
<line x1="681.25" y1="1264" x2="808.75" y2="1264" stroke="#111111" stroke-width="2" stroke-linecap="butt"/>
<line x1="681.25" y1="1272" x2="808.75" y2="1272" stroke="#111111" stroke-width="2" stroke-linecap="butt"/>
<line x1="955" y1="1236" x2="1010" y2="1236" stroke="#111111" stroke-width="2" stroke-linecap="butt"/>
<line x1="955" y1="1258" x2="1010" y2="1258" stroke="#111111" stroke-width="2" stroke-linecap="butt"/>
<line x1="955" y1="1264" x2="1010" y2="1264" stroke="#111111" stroke-width="2" stroke-linecap="butt"/>
<line x1="955" y1="1272" x2="1010" y2="1272" stroke="#111111" stroke-width="2" stroke-linecap="butt"/>
<line x1="1025" y1="1236" x2="1078.75" y2="1236" stroke="#111111" stroke-width="2" stroke-linecap="butt"/>
<line x1="1025" y1="1258" x2="1078.75" y2="1258" stroke="#111111" stroke-width="2" stroke-linecap="butt"/>
<line x1="1025" y1="1264" x2="1078.75" y2="1264" stroke="#111111" stroke-width="2" stroke-linecap="butt"/>
<line x1="1025" y1="1272" x2="1078.75" y2="1272" stroke="#111111" stroke-width="2" stroke-linecap="butt"/>
<rect x="808.75" y="1225" width="146.25" height="47.5" fill="none" stroke="#3fcf3f" stroke-width="2"/>
<line x1="955.3" y1="1224" x2="1079.8" y2="1224" stroke="#e6ac26" stroke-width="2" stroke-linecap="butt"/>
<line x1="1139" y1="1224" x2="1173.7" y2="1224" stroke="#e6ac26" stroke-width="2" stroke-linecap="butt"/>
<circle cx="1236.25" cy="1187.5" r="26" stroke="#cc30cc" stroke-width="1.7" fill="none"/>
<line x1="1236" y1="1214" x2="1236" y2="1247" stroke="#be14be" stroke-width="2" stroke-linecap="butt"/>
<rect x="1219" y="1244.5" width="46.5" height="29" fill="#fff"/>
<line x1="1218.6" y1="1244" x2="1265.5" y2="1244" stroke="#3fcf3f" stroke-width="2" stroke-linecap="butt"/>
<line x1="1266" y1="1244.3" x2="1266" y2="1273.5" stroke="#3fcf3f" stroke-width="2" stroke-linecap="butt"/>
<line x1="1078.75" y1="1273" x2="1265.5" y2="1273" stroke="#3fcf3f" stroke-width="2" stroke-linecap="butt"/>
<line x1="1219" y1="1244.3" x2="1219" y2="1274" stroke="#be14be" stroke-width="2" stroke-linecap="butt"/>
<line x1="1224.0" y1="1253" x2="1228.0" y2="1249" stroke="#be14be" stroke-width="1.6" stroke-linecap="butt"/>
<line x1="1225.0" y1="1262" x2="1228.0" y2="1258" stroke="#be14be" stroke-width="1.6" stroke-linecap="butt"/>
<rect x="1225.0" y="1268" width="2" height="2" fill="#be14be"/>
<line x1="1229.6" y1="1253" x2="1233.6" y2="1249" stroke="#be14be" stroke-width="1.6" stroke-linecap="butt"/>
<line x1="1230.6" y1="1262" x2="1233.6" y2="1258" stroke="#be14be" stroke-width="1.6" stroke-linecap="butt"/>
<rect x="1230.6" y="1268" width="2" height="2" fill="#be14be"/>
<line x1="1235.2" y1="1253" x2="1239.2" y2="1249" stroke="#be14be" stroke-width="1.6" stroke-linecap="butt"/>
<line x1="1236.2" y1="1262" x2="1239.2" y2="1258" stroke="#be14be" stroke-width="1.6" stroke-linecap="butt"/>
<rect x="1236.2" y="1268" width="2" height="2" fill="#be14be"/>
<line x1="1240.8" y1="1253" x2="1244.8" y2="1249" stroke="#be14be" stroke-width="1.6" stroke-linecap="butt"/>
<line x1="1241.8" y1="1262" x2="1244.8" y2="1258" stroke="#be14be" stroke-width="1.6" stroke-linecap="butt"/>
<rect x="1241.8" y="1268" width="2" height="2" fill="#be14be"/>
<line x1="1246.4" y1="1253" x2="1250.4" y2="1249" stroke="#be14be" stroke-width="1.6" stroke-linecap="butt"/>
<line x1="1247.4" y1="1262" x2="1250.4" y2="1258" stroke="#be14be" stroke-width="1.6" stroke-linecap="butt"/>
<rect x="1247.4" y="1268" width="2" height="2" fill="#be14be"/>
<line x1="1252.0" y1="1253" x2="1256.0" y2="1249" stroke="#be14be" stroke-width="1.6" stroke-linecap="butt"/>
<line x1="1253.0" y1="1262" x2="1256.0" y2="1258" stroke="#be14be" stroke-width="1.6" stroke-linecap="butt"/>
<rect x="1253.0" y="1268" width="2" height="2" fill="#be14be"/>
<line x1="1257.6" y1="1253" x2="1261.6" y2="1249" stroke="#be14be" stroke-width="1.6" stroke-linecap="butt"/>
<line x1="1258.6" y1="1262" x2="1261.6" y2="1258" stroke="#be14be" stroke-width="1.6" stroke-linecap="butt"/>
<rect x="1258.6" y="1268" width="2" height="2" fill="#be14be"/>
<line x1="1203.2" y1="1250.4" x2="1223.4" y2="1250.4" stroke="#d81818" stroke-width="2.2" stroke-linecap="butt"/>
<line x1="1203.2" y1="1246.6000000000001" x2="1203.2" y2="1254.2" stroke="#d81818" stroke-width="2.2" stroke-linecap="butt"/>
<line x1="1259" y1="1250" x2="1273" y2="1250" stroke="#d81818" stroke-width="2" stroke-linecap="butt"/>
<line x1="1203.2" y1="1266.6" x2="1223.4" y2="1266.6" stroke="#d81818" stroke-width="2.2" stroke-linecap="butt"/>
<line x1="1203.2" y1="1262.8" x2="1203.2" y2="1270.3999999999999" stroke="#d81818" stroke-width="2.2" stroke-linecap="butt"/>
<line x1="1259" y1="1267" x2="1273" y2="1267" stroke="#d81818" stroke-width="2" stroke-linecap="butt"/>
<rect x="1265.5" y="1243.4" width="8" height="2.0" fill="#111111"/>
<rect x="1265.5" y="1257.2" width="8" height="2.0" fill="#111111"/>
<rect x="1265.5" y="1263.7" width="8" height="11.799999999999955" fill="#111111"/>
<rect x="1265.5" y="1288.4" width="8" height="2.0" fill="#111111"/>
<rect x="1265.5" y="1301.3" width="8" height="21.700000000000045" fill="#111111"/>
<rect x="1265.5" y="1336.9" width="8" height="2.0" fill="#111111"/>
<rect x="1265.5" y="1348.8" width="8" height="24.799999999999955" fill="#111111"/>
<rect x="1265.5" y="1385.4" width="8" height="2.0" fill="#111111"/>
<rect x="1265.5" y="1396.3" width="8" height="13.200000000000045" fill="#111111"/>
<line x1="1272.5" y1="1325" x2="1272.5" y2="1337" stroke="#be14be" stroke-width="1.5" stroke-linecap="butt"/>
<circle cx="718.5" cy="1325.5" r="25" stroke="#cc30cc" stroke-width="1.7" fill="none"/>
<circle cx="770.5" cy="1325.5" r="25" stroke="#cc30cc" stroke-width="1.7" fill="none"/>
<circle cx="931" cy="1325.5" r="25" stroke="#cc30cc" stroke-width="1.7" fill="none"/>
<circle cx="983" cy="1325.5" r="25" stroke="#cc30cc" stroke-width="1.7" fill="none"/>
<circle cx="1063.5" cy="1325.5" r="25" stroke="#cc30cc" stroke-width="1.7" fill="none"/>
<circle cx="1116" cy="1325.5" r="25" stroke="#cc30cc" stroke-width="1.7" fill="none"/>
<line x1="718" y1="1265" x2="718" y2="1300" stroke="#be14be" stroke-width="2" stroke-linecap="butt"/>
<line x1="982" y1="1265" x2="982" y2="1300" stroke="#be14be" stroke-width="2" stroke-linecap="butt"/>
<line x1="1063" y1="1265" x2="1063" y2="1300" stroke="#be14be" stroke-width="2" stroke-linecap="butt"/>
<line x1="1062" y1="1265" x2="1062" y2="1300" stroke="#be14be" stroke-width="2" stroke-linecap="butt"/>
<line x1="222.5" y1="1392" x2="1273" y2="1392" stroke="#e6ac26" stroke-width="2" stroke-linecap="butt"/>
<line x1="230.5" y1="1399.5" x2="245.5" y2="1384.5" stroke="#e6ac26" stroke-width="1.3" stroke-linecap="butt"/>
<line x1="270" y1="1399.5" x2="285" y2="1384.5" stroke="#e6ac26" stroke-width="1.3" stroke-linecap="butt"/>
<line x1="675" y1="1399.5" x2="690" y2="1384.5" stroke="#e6ac26" stroke-width="1.3" stroke-linecap="butt"/>
<line x1="801.75" y1="1399.5" x2="816.75" y2="1384.5" stroke="#e6ac26" stroke-width="1.3" stroke-linecap="butt"/>
<line x1="949.25" y1="1399.5" x2="964.25" y2="1384.5" stroke="#e6ac26" stroke-width="1.3" stroke-linecap="butt"/>
<line x1="1001.75" y1="1399.5" x2="1016.75" y2="1384.5" stroke="#e6ac26" stroke-width="1.3" stroke-linecap="butt"/>
<line x1="1018" y1="1399.5" x2="1033" y2="1384.5" stroke="#e6ac26" stroke-width="1.3" stroke-linecap="butt"/>
<line x1="1071.75" y1="1399.5" x2="1086.75" y2="1384.5" stroke="#e6ac26" stroke-width="1.3" stroke-linecap="butt"/>
<line x1="1258" y1="1399.5" x2="1273" y2="1384.5" stroke="#e6ac26" stroke-width="1.3" stroke-linecap="butt"/>
<line x1="682" y1="1356" x2="682" y2="1392.5" stroke="#e6ac26" stroke-width="2" stroke-linecap="butt"/>
<line x1="809" y1="1356" x2="809" y2="1392.5" stroke="#e6ac26" stroke-width="2" stroke-linecap="butt"/>
<line x1="956" y1="1356" x2="956" y2="1392.5" stroke="#e6ac26" stroke-width="2" stroke-linecap="butt"/>
<line x1="1009" y1="1356" x2="1009" y2="1392.5" stroke="#e6ac26" stroke-width="2" stroke-linecap="butt"/>
<line x1="1025" y1="1356" x2="1025" y2="1392.5" stroke="#e6ac26" stroke-width="2" stroke-linecap="butt"/>
<line x1="1079" y1="1356" x2="1079" y2="1392.5" stroke="#e6ac26" stroke-width="2" stroke-linecap="butt"/>
<line x1="277" y1="1335" x2="277" y2="1392.5" stroke="#e6ac26" stroke-width="2" stroke-linecap="butt"/>
<line x1="1202.5" y1="1311" x2="1273" y2="1311" stroke="#e6ac26" stroke-width="2" stroke-linecap="butt"/>
<line x1="1211.75" y1="1318" x2="1226.75" y2="1303" stroke="#e6ac26" stroke-width="1.3" stroke-linecap="butt"/>
<line x1="1258" y1="1318" x2="1273" y2="1303" stroke="#e6ac26" stroke-width="1.3" stroke-linecap="butt"/>
<line x1="1218" y1="1288" x2="1218" y2="1312" stroke="#e6ac26" stroke-width="2" stroke-linecap="butt"/>
<path d="M1225 1393 L1225 1385 Q1225 1370 1243 1370 Q1262 1370 1262 1385 L1262 1393" stroke="#3fcf3f" stroke-width="2" fill="none" />
<line x1="1211" y1="1408.6" x2="1273" y2="1408.6" stroke="#111111" stroke-width="2.5" stroke-linecap="butt"/>
<line x1="1211" y1="1408.6" x2="1236" y2="1422.6" stroke="#111111" stroke-width="2" stroke-linecap="butt"/>
</g>
<rect x="100" y="100" width="1174" height="1357" fill="none" stroke="#3b5a6b" stroke-width="2" rx="1"/>
</svg>
</body></html>
